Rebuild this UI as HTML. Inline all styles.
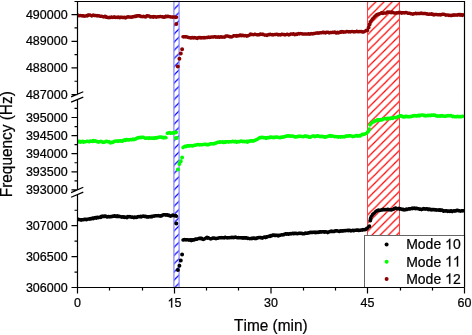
<!DOCTYPE html><html><head><meta charset="utf-8"><style>html,body{margin:0;padding:0;background:#fff;overflow:hidden}svg{display:block;will-change:transform}</style></head><body><svg width="472" height="335" viewBox="0 0 472 335"><defs><pattern id="hr" patternUnits="userSpaceOnUse" width="8.195" height="8.195" patternTransform="translate(0.69 0)"><path d="M-1 1L1 -1M0 8.195L8.195 0M7.195 9.195L9.195 7.195" stroke="#ff0000" stroke-width="1.2"/></pattern><pattern id="hb" patternUnits="userSpaceOnUse" width="8.206" height="8.206" patternTransform="translate(2.868 0)"><path d="M-1 1L1 -1M0 8.206L8.206 0M7.206 9.206L9.206 7.206" stroke="#0000ff" stroke-width="1.15"/></pattern><clipPath id="cp"><rect x="77.3" y="0" width="387.2" height="290"/></clipPath></defs><rect width="472" height="335" fill="#fff"/><rect x="173.9" y="1.5" width="5.2" height="286" fill="url(#hb)" stroke="#8c8cff" stroke-width="1.3"/><rect x="367.5" y="1.5" width="32" height="286" fill="url(#hr)" stroke="#ff4040" stroke-width="1"/><path clip-path="url(#cp)" fill="#8b0000" d="M75.8 15.1a1.75 1.75 0 1 0 3.5 0a1.75 1.75 0 1 0 -3.5 0M76.5 15.7a1.75 1.75 0 1 0 3.5 0a1.75 1.75 0 1 0 -3.5 0M77.2 15.4a1.75 1.75 0 1 0 3.5 0a1.75 1.75 0 1 0 -3.5 0M78.0 15.8a1.75 1.75 0 1 0 3.5 0a1.75 1.75 0 1 0 -3.5 0M78.8 15.4a1.75 1.75 0 1 0 3.5 0a1.75 1.75 0 1 0 -3.5 0M79.5 15.8a1.75 1.75 0 1 0 3.5 0a1.75 1.75 0 1 0 -3.5 0M80.2 15.7a1.75 1.75 0 1 0 3.5 0a1.75 1.75 0 1 0 -3.5 0M81.0 16.0a1.75 1.75 0 1 0 3.5 0a1.75 1.75 0 1 0 -3.5 0M81.8 15.7a1.75 1.75 0 1 0 3.5 0a1.75 1.75 0 1 0 -3.5 0M82.5 16.2a1.75 1.75 0 1 0 3.5 0a1.75 1.75 0 1 0 -3.5 0M83.2 15.9a1.75 1.75 0 1 0 3.5 0a1.75 1.75 0 1 0 -3.5 0M84.0 15.9a1.75 1.75 0 1 0 3.5 0a1.75 1.75 0 1 0 -3.5 0M84.8 15.8a1.75 1.75 0 1 0 3.5 0a1.75 1.75 0 1 0 -3.5 0M85.5 15.9a1.75 1.75 0 1 0 3.5 0a1.75 1.75 0 1 0 -3.5 0M86.2 15.1a1.75 1.75 0 1 0 3.5 0a1.75 1.75 0 1 0 -3.5 0M87.0 15.3a1.75 1.75 0 1 0 3.5 0a1.75 1.75 0 1 0 -3.5 0M87.8 15.1a1.75 1.75 0 1 0 3.5 0a1.75 1.75 0 1 0 -3.5 0M88.5 15.3a1.75 1.75 0 1 0 3.5 0a1.75 1.75 0 1 0 -3.5 0M89.2 15.5a1.75 1.75 0 1 0 3.5 0a1.75 1.75 0 1 0 -3.5 0M90.0 16.1a1.75 1.75 0 1 0 3.5 0a1.75 1.75 0 1 0 -3.5 0M90.8 15.5a1.75 1.75 0 1 0 3.5 0a1.75 1.75 0 1 0 -3.5 0M91.5 15.0a1.75 1.75 0 1 0 3.5 0a1.75 1.75 0 1 0 -3.5 0M92.2 15.4a1.75 1.75 0 1 0 3.5 0a1.75 1.75 0 1 0 -3.5 0M93.0 15.4a1.75 1.75 0 1 0 3.5 0a1.75 1.75 0 1 0 -3.5 0M93.8 15.4a1.75 1.75 0 1 0 3.5 0a1.75 1.75 0 1 0 -3.5 0M94.5 15.8a1.75 1.75 0 1 0 3.5 0a1.75 1.75 0 1 0 -3.5 0M95.2 15.5a1.75 1.75 0 1 0 3.5 0a1.75 1.75 0 1 0 -3.5 0M96.0 16.0a1.75 1.75 0 1 0 3.5 0a1.75 1.75 0 1 0 -3.5 0M96.8 15.8a1.75 1.75 0 1 0 3.5 0a1.75 1.75 0 1 0 -3.5 0M97.5 16.1a1.75 1.75 0 1 0 3.5 0a1.75 1.75 0 1 0 -3.5 0M98.2 16.3a1.75 1.75 0 1 0 3.5 0a1.75 1.75 0 1 0 -3.5 0M99.0 16.3a1.75 1.75 0 1 0 3.5 0a1.75 1.75 0 1 0 -3.5 0M99.8 16.3a1.75 1.75 0 1 0 3.5 0a1.75 1.75 0 1 0 -3.5 0M100.5 16.4a1.75 1.75 0 1 0 3.5 0a1.75 1.75 0 1 0 -3.5 0M101.2 16.8a1.75 1.75 0 1 0 3.5 0a1.75 1.75 0 1 0 -3.5 0M102.0 16.9a1.75 1.75 0 1 0 3.5 0a1.75 1.75 0 1 0 -3.5 0M102.8 16.6a1.75 1.75 0 1 0 3.5 0a1.75 1.75 0 1 0 -3.5 0M103.5 16.3a1.75 1.75 0 1 0 3.5 0a1.75 1.75 0 1 0 -3.5 0M104.2 17.2a1.75 1.75 0 1 0 3.5 0a1.75 1.75 0 1 0 -3.5 0M105.0 17.1a1.75 1.75 0 1 0 3.5 0a1.75 1.75 0 1 0 -3.5 0M105.8 17.4a1.75 1.75 0 1 0 3.5 0a1.75 1.75 0 1 0 -3.5 0M106.5 17.5a1.75 1.75 0 1 0 3.5 0a1.75 1.75 0 1 0 -3.5 0M107.2 17.8a1.75 1.75 0 1 0 3.5 0a1.75 1.75 0 1 0 -3.5 0M108.0 17.2a1.75 1.75 0 1 0 3.5 0a1.75 1.75 0 1 0 -3.5 0M108.8 17.5a1.75 1.75 0 1 0 3.5 0a1.75 1.75 0 1 0 -3.5 0M109.5 17.1a1.75 1.75 0 1 0 3.5 0a1.75 1.75 0 1 0 -3.5 0M110.2 17.2a1.75 1.75 0 1 0 3.5 0a1.75 1.75 0 1 0 -3.5 0M111.0 17.4a1.75 1.75 0 1 0 3.5 0a1.75 1.75 0 1 0 -3.5 0M111.8 17.0a1.75 1.75 0 1 0 3.5 0a1.75 1.75 0 1 0 -3.5 0M112.5 17.2a1.75 1.75 0 1 0 3.5 0a1.75 1.75 0 1 0 -3.5 0M113.2 17.0a1.75 1.75 0 1 0 3.5 0a1.75 1.75 0 1 0 -3.5 0M114.0 17.5a1.75 1.75 0 1 0 3.5 0a1.75 1.75 0 1 0 -3.5 0M114.8 17.3a1.75 1.75 0 1 0 3.5 0a1.75 1.75 0 1 0 -3.5 0M115.5 17.6a1.75 1.75 0 1 0 3.5 0a1.75 1.75 0 1 0 -3.5 0M116.2 17.1a1.75 1.75 0 1 0 3.5 0a1.75 1.75 0 1 0 -3.5 0M117.0 17.3a1.75 1.75 0 1 0 3.5 0a1.75 1.75 0 1 0 -3.5 0M117.8 17.7a1.75 1.75 0 1 0 3.5 0a1.75 1.75 0 1 0 -3.5 0M118.5 17.2a1.75 1.75 0 1 0 3.5 0a1.75 1.75 0 1 0 -3.5 0M119.2 17.4a1.75 1.75 0 1 0 3.5 0a1.75 1.75 0 1 0 -3.5 0M120.0 17.3a1.75 1.75 0 1 0 3.5 0a1.75 1.75 0 1 0 -3.5 0M120.8 17.5a1.75 1.75 0 1 0 3.5 0a1.75 1.75 0 1 0 -3.5 0M121.5 17.4a1.75 1.75 0 1 0 3.5 0a1.75 1.75 0 1 0 -3.5 0M122.2 17.6a1.75 1.75 0 1 0 3.5 0a1.75 1.75 0 1 0 -3.5 0M123.0 17.2a1.75 1.75 0 1 0 3.5 0a1.75 1.75 0 1 0 -3.5 0M123.8 17.9a1.75 1.75 0 1 0 3.5 0a1.75 1.75 0 1 0 -3.5 0M124.5 17.6a1.75 1.75 0 1 0 3.5 0a1.75 1.75 0 1 0 -3.5 0M125.2 17.2a1.75 1.75 0 1 0 3.5 0a1.75 1.75 0 1 0 -3.5 0M126.0 16.7a1.75 1.75 0 1 0 3.5 0a1.75 1.75 0 1 0 -3.5 0M126.8 17.1a1.75 1.75 0 1 0 3.5 0a1.75 1.75 0 1 0 -3.5 0M127.5 17.0a1.75 1.75 0 1 0 3.5 0a1.75 1.75 0 1 0 -3.5 0M128.2 17.0a1.75 1.75 0 1 0 3.5 0a1.75 1.75 0 1 0 -3.5 0M129.0 17.3a1.75 1.75 0 1 0 3.5 0a1.75 1.75 0 1 0 -3.5 0M129.8 17.2a1.75 1.75 0 1 0 3.5 0a1.75 1.75 0 1 0 -3.5 0M130.5 16.8a1.75 1.75 0 1 0 3.5 0a1.75 1.75 0 1 0 -3.5 0M131.2 16.9a1.75 1.75 0 1 0 3.5 0a1.75 1.75 0 1 0 -3.5 0M132.0 16.7a1.75 1.75 0 1 0 3.5 0a1.75 1.75 0 1 0 -3.5 0M132.8 16.3a1.75 1.75 0 1 0 3.5 0a1.75 1.75 0 1 0 -3.5 0M133.5 16.6a1.75 1.75 0 1 0 3.5 0a1.75 1.75 0 1 0 -3.5 0M134.2 16.4a1.75 1.75 0 1 0 3.5 0a1.75 1.75 0 1 0 -3.5 0M135.0 15.7a1.75 1.75 0 1 0 3.5 0a1.75 1.75 0 1 0 -3.5 0M135.8 15.9a1.75 1.75 0 1 0 3.5 0a1.75 1.75 0 1 0 -3.5 0M136.5 15.8a1.75 1.75 0 1 0 3.5 0a1.75 1.75 0 1 0 -3.5 0M137.2 16.0a1.75 1.75 0 1 0 3.5 0a1.75 1.75 0 1 0 -3.5 0M138.0 15.8a1.75 1.75 0 1 0 3.5 0a1.75 1.75 0 1 0 -3.5 0M138.8 16.4a1.75 1.75 0 1 0 3.5 0a1.75 1.75 0 1 0 -3.5 0M139.5 16.5a1.75 1.75 0 1 0 3.5 0a1.75 1.75 0 1 0 -3.5 0M140.2 16.6a1.75 1.75 0 1 0 3.5 0a1.75 1.75 0 1 0 -3.5 0M141.0 16.7a1.75 1.75 0 1 0 3.5 0a1.75 1.75 0 1 0 -3.5 0M141.8 16.3a1.75 1.75 0 1 0 3.5 0a1.75 1.75 0 1 0 -3.5 0M142.5 16.8a1.75 1.75 0 1 0 3.5 0a1.75 1.75 0 1 0 -3.5 0M143.2 16.7a1.75 1.75 0 1 0 3.5 0a1.75 1.75 0 1 0 -3.5 0M144.0 16.9a1.75 1.75 0 1 0 3.5 0a1.75 1.75 0 1 0 -3.5 0M144.8 16.0a1.75 1.75 0 1 0 3.5 0a1.75 1.75 0 1 0 -3.5 0M145.5 15.7a1.75 1.75 0 1 0 3.5 0a1.75 1.75 0 1 0 -3.5 0M146.2 16.1a1.75 1.75 0 1 0 3.5 0a1.75 1.75 0 1 0 -3.5 0M147.0 15.9a1.75 1.75 0 1 0 3.5 0a1.75 1.75 0 1 0 -3.5 0M147.8 16.2a1.75 1.75 0 1 0 3.5 0a1.75 1.75 0 1 0 -3.5 0M148.5 17.1a1.75 1.75 0 1 0 3.5 0a1.75 1.75 0 1 0 -3.5 0M149.2 16.9a1.75 1.75 0 1 0 3.5 0a1.75 1.75 0 1 0 -3.5 0M150.0 16.7a1.75 1.75 0 1 0 3.5 0a1.75 1.75 0 1 0 -3.5 0M150.8 17.0a1.75 1.75 0 1 0 3.5 0a1.75 1.75 0 1 0 -3.5 0M151.5 17.2a1.75 1.75 0 1 0 3.5 0a1.75 1.75 0 1 0 -3.5 0M152.2 16.5a1.75 1.75 0 1 0 3.5 0a1.75 1.75 0 1 0 -3.5 0M153.0 16.8a1.75 1.75 0 1 0 3.5 0a1.75 1.75 0 1 0 -3.5 0M153.8 16.8a1.75 1.75 0 1 0 3.5 0a1.75 1.75 0 1 0 -3.5 0M154.5 17.2a1.75 1.75 0 1 0 3.5 0a1.75 1.75 0 1 0 -3.5 0M155.2 17.1a1.75 1.75 0 1 0 3.5 0a1.75 1.75 0 1 0 -3.5 0M156.0 16.8a1.75 1.75 0 1 0 3.5 0a1.75 1.75 0 1 0 -3.5 0M156.8 16.8a1.75 1.75 0 1 0 3.5 0a1.75 1.75 0 1 0 -3.5 0M157.5 16.7a1.75 1.75 0 1 0 3.5 0a1.75 1.75 0 1 0 -3.5 0M158.2 16.4a1.75 1.75 0 1 0 3.5 0a1.75 1.75 0 1 0 -3.5 0M159.0 16.5a1.75 1.75 0 1 0 3.5 0a1.75 1.75 0 1 0 -3.5 0M159.8 16.7a1.75 1.75 0 1 0 3.5 0a1.75 1.75 0 1 0 -3.5 0M160.5 16.9a1.75 1.75 0 1 0 3.5 0a1.75 1.75 0 1 0 -3.5 0M161.2 16.8a1.75 1.75 0 1 0 3.5 0a1.75 1.75 0 1 0 -3.5 0M162.0 17.2a1.75 1.75 0 1 0 3.5 0a1.75 1.75 0 1 0 -3.5 0M162.8 17.2a1.75 1.75 0 1 0 3.5 0a1.75 1.75 0 1 0 -3.5 0M163.5 16.6a1.75 1.75 0 1 0 3.5 0a1.75 1.75 0 1 0 -3.5 0M164.2 16.3a1.75 1.75 0 1 0 3.5 0a1.75 1.75 0 1 0 -3.5 0M165.0 16.8a1.75 1.75 0 1 0 3.5 0a1.75 1.75 0 1 0 -3.5 0M165.8 16.2a1.75 1.75 0 1 0 3.5 0a1.75 1.75 0 1 0 -3.5 0M166.5 16.4a1.75 1.75 0 1 0 3.5 0a1.75 1.75 0 1 0 -3.5 0M167.2 16.4a1.75 1.75 0 1 0 3.5 0a1.75 1.75 0 1 0 -3.5 0M168.0 16.7a1.75 1.75 0 1 0 3.5 0a1.75 1.75 0 1 0 -3.5 0M168.8 17.1a1.75 1.75 0 1 0 3.5 0a1.75 1.75 0 1 0 -3.5 0M169.5 17.0a1.75 1.75 0 1 0 3.5 0a1.75 1.75 0 1 0 -3.5 0M170.2 16.9a1.75 1.75 0 1 0 3.5 0a1.75 1.75 0 1 0 -3.5 0M171.0 17.2a1.75 1.75 0 1 0 3.5 0a1.75 1.75 0 1 0 -3.5 0M171.8 17.1a1.75 1.75 0 1 0 3.5 0a1.75 1.75 0 1 0 -3.5 0M172.5 17.1a1.75 1.75 0 1 0 3.5 0a1.75 1.75 0 1 0 -3.5 0M173.2 17.1a1.75 1.75 0 1 0 3.5 0a1.75 1.75 0 1 0 -3.5 0M174.0 17.4a1.75 1.75 0 1 0 3.5 0a1.75 1.75 0 1 0 -3.5 0M174.8 17.2a1.75 1.75 0 1 0 3.5 0a1.75 1.75 0 1 0 -3.5 0M181.2 36.7a1.75 1.75 0 1 0 3.5 0a1.75 1.75 0 1 0 -3.5 0M182.0 36.9a1.75 1.75 0 1 0 3.5 0a1.75 1.75 0 1 0 -3.5 0M182.8 36.8a1.75 1.75 0 1 0 3.5 0a1.75 1.75 0 1 0 -3.5 0M183.5 37.0a1.75 1.75 0 1 0 3.5 0a1.75 1.75 0 1 0 -3.5 0M184.2 36.7a1.75 1.75 0 1 0 3.5 0a1.75 1.75 0 1 0 -3.5 0M185.0 37.1a1.75 1.75 0 1 0 3.5 0a1.75 1.75 0 1 0 -3.5 0M185.8 37.3a1.75 1.75 0 1 0 3.5 0a1.75 1.75 0 1 0 -3.5 0M186.5 37.6a1.75 1.75 0 1 0 3.5 0a1.75 1.75 0 1 0 -3.5 0M187.2 37.5a1.75 1.75 0 1 0 3.5 0a1.75 1.75 0 1 0 -3.5 0M188.0 37.7a1.75 1.75 0 1 0 3.5 0a1.75 1.75 0 1 0 -3.5 0M188.8 38.1a1.75 1.75 0 1 0 3.5 0a1.75 1.75 0 1 0 -3.5 0M189.5 38.1a1.75 1.75 0 1 0 3.5 0a1.75 1.75 0 1 0 -3.5 0M190.2 37.6a1.75 1.75 0 1 0 3.5 0a1.75 1.75 0 1 0 -3.5 0M191.0 37.5a1.75 1.75 0 1 0 3.5 0a1.75 1.75 0 1 0 -3.5 0M191.8 37.9a1.75 1.75 0 1 0 3.5 0a1.75 1.75 0 1 0 -3.5 0M192.5 37.4a1.75 1.75 0 1 0 3.5 0a1.75 1.75 0 1 0 -3.5 0M193.2 37.7a1.75 1.75 0 1 0 3.5 0a1.75 1.75 0 1 0 -3.5 0M194.0 37.9a1.75 1.75 0 1 0 3.5 0a1.75 1.75 0 1 0 -3.5 0M194.8 38.2a1.75 1.75 0 1 0 3.5 0a1.75 1.75 0 1 0 -3.5 0M195.5 38.5a1.75 1.75 0 1 0 3.5 0a1.75 1.75 0 1 0 -3.5 0M196.2 37.7a1.75 1.75 0 1 0 3.5 0a1.75 1.75 0 1 0 -3.5 0M197.0 37.6a1.75 1.75 0 1 0 3.5 0a1.75 1.75 0 1 0 -3.5 0M197.8 37.5a1.75 1.75 0 1 0 3.5 0a1.75 1.75 0 1 0 -3.5 0M198.5 37.9a1.75 1.75 0 1 0 3.5 0a1.75 1.75 0 1 0 -3.5 0M199.2 37.6a1.75 1.75 0 1 0 3.5 0a1.75 1.75 0 1 0 -3.5 0M200.0 38.0a1.75 1.75 0 1 0 3.5 0a1.75 1.75 0 1 0 -3.5 0M200.8 37.7a1.75 1.75 0 1 0 3.5 0a1.75 1.75 0 1 0 -3.5 0M201.5 37.6a1.75 1.75 0 1 0 3.5 0a1.75 1.75 0 1 0 -3.5 0M202.2 38.0a1.75 1.75 0 1 0 3.5 0a1.75 1.75 0 1 0 -3.5 0M203.0 37.6a1.75 1.75 0 1 0 3.5 0a1.75 1.75 0 1 0 -3.5 0M203.8 37.8a1.75 1.75 0 1 0 3.5 0a1.75 1.75 0 1 0 -3.5 0M204.5 37.6a1.75 1.75 0 1 0 3.5 0a1.75 1.75 0 1 0 -3.5 0M205.2 37.5a1.75 1.75 0 1 0 3.5 0a1.75 1.75 0 1 0 -3.5 0M206.0 37.4a1.75 1.75 0 1 0 3.5 0a1.75 1.75 0 1 0 -3.5 0M206.8 37.0a1.75 1.75 0 1 0 3.5 0a1.75 1.75 0 1 0 -3.5 0M207.5 37.4a1.75 1.75 0 1 0 3.5 0a1.75 1.75 0 1 0 -3.5 0M208.2 37.3a1.75 1.75 0 1 0 3.5 0a1.75 1.75 0 1 0 -3.5 0M209.0 37.3a1.75 1.75 0 1 0 3.5 0a1.75 1.75 0 1 0 -3.5 0M209.8 36.9a1.75 1.75 0 1 0 3.5 0a1.75 1.75 0 1 0 -3.5 0M210.5 36.9a1.75 1.75 0 1 0 3.5 0a1.75 1.75 0 1 0 -3.5 0M211.2 36.9a1.75 1.75 0 1 0 3.5 0a1.75 1.75 0 1 0 -3.5 0M212.0 36.9a1.75 1.75 0 1 0 3.5 0a1.75 1.75 0 1 0 -3.5 0M212.8 36.7a1.75 1.75 0 1 0 3.5 0a1.75 1.75 0 1 0 -3.5 0M213.5 37.1a1.75 1.75 0 1 0 3.5 0a1.75 1.75 0 1 0 -3.5 0M214.2 37.3a1.75 1.75 0 1 0 3.5 0a1.75 1.75 0 1 0 -3.5 0M215.0 37.0a1.75 1.75 0 1 0 3.5 0a1.75 1.75 0 1 0 -3.5 0M215.8 37.2a1.75 1.75 0 1 0 3.5 0a1.75 1.75 0 1 0 -3.5 0M216.5 36.7a1.75 1.75 0 1 0 3.5 0a1.75 1.75 0 1 0 -3.5 0M217.2 37.3a1.75 1.75 0 1 0 3.5 0a1.75 1.75 0 1 0 -3.5 0M218.0 37.3a1.75 1.75 0 1 0 3.5 0a1.75 1.75 0 1 0 -3.5 0M218.8 36.9a1.75 1.75 0 1 0 3.5 0a1.75 1.75 0 1 0 -3.5 0M219.5 36.7a1.75 1.75 0 1 0 3.5 0a1.75 1.75 0 1 0 -3.5 0M220.2 37.2a1.75 1.75 0 1 0 3.5 0a1.75 1.75 0 1 0 -3.5 0M221.0 37.1a1.75 1.75 0 1 0 3.5 0a1.75 1.75 0 1 0 -3.5 0M221.8 36.9a1.75 1.75 0 1 0 3.5 0a1.75 1.75 0 1 0 -3.5 0M222.5 37.2a1.75 1.75 0 1 0 3.5 0a1.75 1.75 0 1 0 -3.5 0M223.2 36.9a1.75 1.75 0 1 0 3.5 0a1.75 1.75 0 1 0 -3.5 0M224.0 36.1a1.75 1.75 0 1 0 3.5 0a1.75 1.75 0 1 0 -3.5 0M224.8 36.1a1.75 1.75 0 1 0 3.5 0a1.75 1.75 0 1 0 -3.5 0M225.5 35.9a1.75 1.75 0 1 0 3.5 0a1.75 1.75 0 1 0 -3.5 0M226.2 36.3a1.75 1.75 0 1 0 3.5 0a1.75 1.75 0 1 0 -3.5 0M227.0 36.4a1.75 1.75 0 1 0 3.5 0a1.75 1.75 0 1 0 -3.5 0M227.8 36.6a1.75 1.75 0 1 0 3.5 0a1.75 1.75 0 1 0 -3.5 0M228.5 37.0a1.75 1.75 0 1 0 3.5 0a1.75 1.75 0 1 0 -3.5 0M229.2 36.8a1.75 1.75 0 1 0 3.5 0a1.75 1.75 0 1 0 -3.5 0M230.0 36.9a1.75 1.75 0 1 0 3.5 0a1.75 1.75 0 1 0 -3.5 0M230.8 36.5a1.75 1.75 0 1 0 3.5 0a1.75 1.75 0 1 0 -3.5 0M231.5 36.1a1.75 1.75 0 1 0 3.5 0a1.75 1.75 0 1 0 -3.5 0M232.2 35.8a1.75 1.75 0 1 0 3.5 0a1.75 1.75 0 1 0 -3.5 0M233.0 35.8a1.75 1.75 0 1 0 3.5 0a1.75 1.75 0 1 0 -3.5 0M233.8 35.7a1.75 1.75 0 1 0 3.5 0a1.75 1.75 0 1 0 -3.5 0M234.5 36.2a1.75 1.75 0 1 0 3.5 0a1.75 1.75 0 1 0 -3.5 0M235.2 35.6a1.75 1.75 0 1 0 3.5 0a1.75 1.75 0 1 0 -3.5 0M236.0 36.1a1.75 1.75 0 1 0 3.5 0a1.75 1.75 0 1 0 -3.5 0M236.8 35.8a1.75 1.75 0 1 0 3.5 0a1.75 1.75 0 1 0 -3.5 0M237.5 35.7a1.75 1.75 0 1 0 3.5 0a1.75 1.75 0 1 0 -3.5 0M238.2 35.1a1.75 1.75 0 1 0 3.5 0a1.75 1.75 0 1 0 -3.5 0M239.0 35.0a1.75 1.75 0 1 0 3.5 0a1.75 1.75 0 1 0 -3.5 0M239.8 35.8a1.75 1.75 0 1 0 3.5 0a1.75 1.75 0 1 0 -3.5 0M240.5 35.4a1.75 1.75 0 1 0 3.5 0a1.75 1.75 0 1 0 -3.5 0M241.2 35.3a1.75 1.75 0 1 0 3.5 0a1.75 1.75 0 1 0 -3.5 0M242.0 35.8a1.75 1.75 0 1 0 3.5 0a1.75 1.75 0 1 0 -3.5 0M242.8 35.7a1.75 1.75 0 1 0 3.5 0a1.75 1.75 0 1 0 -3.5 0M243.5 35.4a1.75 1.75 0 1 0 3.5 0a1.75 1.75 0 1 0 -3.5 0M244.2 35.7a1.75 1.75 0 1 0 3.5 0a1.75 1.75 0 1 0 -3.5 0M245.0 36.2a1.75 1.75 0 1 0 3.5 0a1.75 1.75 0 1 0 -3.5 0M245.8 35.7a1.75 1.75 0 1 0 3.5 0a1.75 1.75 0 1 0 -3.5 0M246.5 35.7a1.75 1.75 0 1 0 3.5 0a1.75 1.75 0 1 0 -3.5 0M247.2 35.2a1.75 1.75 0 1 0 3.5 0a1.75 1.75 0 1 0 -3.5 0M248.0 35.0a1.75 1.75 0 1 0 3.5 0a1.75 1.75 0 1 0 -3.5 0M248.8 34.1a1.75 1.75 0 1 0 3.5 0a1.75 1.75 0 1 0 -3.5 0M249.5 34.5a1.75 1.75 0 1 0 3.5 0a1.75 1.75 0 1 0 -3.5 0M250.2 34.4a1.75 1.75 0 1 0 3.5 0a1.75 1.75 0 1 0 -3.5 0M251.0 34.6a1.75 1.75 0 1 0 3.5 0a1.75 1.75 0 1 0 -3.5 0M251.8 34.8a1.75 1.75 0 1 0 3.5 0a1.75 1.75 0 1 0 -3.5 0M252.5 34.4a1.75 1.75 0 1 0 3.5 0a1.75 1.75 0 1 0 -3.5 0M253.2 34.2a1.75 1.75 0 1 0 3.5 0a1.75 1.75 0 1 0 -3.5 0M254.0 34.5a1.75 1.75 0 1 0 3.5 0a1.75 1.75 0 1 0 -3.5 0M254.8 34.7a1.75 1.75 0 1 0 3.5 0a1.75 1.75 0 1 0 -3.5 0M255.5 34.8a1.75 1.75 0 1 0 3.5 0a1.75 1.75 0 1 0 -3.5 0M256.2 34.9a1.75 1.75 0 1 0 3.5 0a1.75 1.75 0 1 0 -3.5 0M257.0 34.7a1.75 1.75 0 1 0 3.5 0a1.75 1.75 0 1 0 -3.5 0M257.8 34.8a1.75 1.75 0 1 0 3.5 0a1.75 1.75 0 1 0 -3.5 0M258.5 34.0a1.75 1.75 0 1 0 3.5 0a1.75 1.75 0 1 0 -3.5 0M259.2 34.2a1.75 1.75 0 1 0 3.5 0a1.75 1.75 0 1 0 -3.5 0M260.0 34.3a1.75 1.75 0 1 0 3.5 0a1.75 1.75 0 1 0 -3.5 0M260.8 34.4a1.75 1.75 0 1 0 3.5 0a1.75 1.75 0 1 0 -3.5 0M261.5 34.3a1.75 1.75 0 1 0 3.5 0a1.75 1.75 0 1 0 -3.5 0M262.2 34.8a1.75 1.75 0 1 0 3.5 0a1.75 1.75 0 1 0 -3.5 0M263.0 35.2a1.75 1.75 0 1 0 3.5 0a1.75 1.75 0 1 0 -3.5 0M263.8 34.9a1.75 1.75 0 1 0 3.5 0a1.75 1.75 0 1 0 -3.5 0M264.5 35.0a1.75 1.75 0 1 0 3.5 0a1.75 1.75 0 1 0 -3.5 0M265.2 35.5a1.75 1.75 0 1 0 3.5 0a1.75 1.75 0 1 0 -3.5 0M266.0 35.1a1.75 1.75 0 1 0 3.5 0a1.75 1.75 0 1 0 -3.5 0M266.8 34.6a1.75 1.75 0 1 0 3.5 0a1.75 1.75 0 1 0 -3.5 0M267.5 34.8a1.75 1.75 0 1 0 3.5 0a1.75 1.75 0 1 0 -3.5 0M268.2 34.3a1.75 1.75 0 1 0 3.5 0a1.75 1.75 0 1 0 -3.5 0M269.0 34.5a1.75 1.75 0 1 0 3.5 0a1.75 1.75 0 1 0 -3.5 0M269.8 34.8a1.75 1.75 0 1 0 3.5 0a1.75 1.75 0 1 0 -3.5 0M270.5 34.6a1.75 1.75 0 1 0 3.5 0a1.75 1.75 0 1 0 -3.5 0M271.2 34.9a1.75 1.75 0 1 0 3.5 0a1.75 1.75 0 1 0 -3.5 0M272.0 34.8a1.75 1.75 0 1 0 3.5 0a1.75 1.75 0 1 0 -3.5 0M272.8 34.4a1.75 1.75 0 1 0 3.5 0a1.75 1.75 0 1 0 -3.5 0M273.5 34.6a1.75 1.75 0 1 0 3.5 0a1.75 1.75 0 1 0 -3.5 0M274.2 34.6a1.75 1.75 0 1 0 3.5 0a1.75 1.75 0 1 0 -3.5 0M275.0 34.3a1.75 1.75 0 1 0 3.5 0a1.75 1.75 0 1 0 -3.5 0M275.8 34.6a1.75 1.75 0 1 0 3.5 0a1.75 1.75 0 1 0 -3.5 0M276.5 35.0a1.75 1.75 0 1 0 3.5 0a1.75 1.75 0 1 0 -3.5 0M277.2 34.6a1.75 1.75 0 1 0 3.5 0a1.75 1.75 0 1 0 -3.5 0M278.0 34.7a1.75 1.75 0 1 0 3.5 0a1.75 1.75 0 1 0 -3.5 0M278.8 35.0a1.75 1.75 0 1 0 3.5 0a1.75 1.75 0 1 0 -3.5 0M279.5 34.4a1.75 1.75 0 1 0 3.5 0a1.75 1.75 0 1 0 -3.5 0M280.2 34.2a1.75 1.75 0 1 0 3.5 0a1.75 1.75 0 1 0 -3.5 0M281.0 34.6a1.75 1.75 0 1 0 3.5 0a1.75 1.75 0 1 0 -3.5 0M281.8 34.5a1.75 1.75 0 1 0 3.5 0a1.75 1.75 0 1 0 -3.5 0M282.5 34.6a1.75 1.75 0 1 0 3.5 0a1.75 1.75 0 1 0 -3.5 0M283.2 34.9a1.75 1.75 0 1 0 3.5 0a1.75 1.75 0 1 0 -3.5 0M284.0 34.8a1.75 1.75 0 1 0 3.5 0a1.75 1.75 0 1 0 -3.5 0M284.8 34.6a1.75 1.75 0 1 0 3.5 0a1.75 1.75 0 1 0 -3.5 0M285.5 34.3a1.75 1.75 0 1 0 3.5 0a1.75 1.75 0 1 0 -3.5 0M286.2 34.4a1.75 1.75 0 1 0 3.5 0a1.75 1.75 0 1 0 -3.5 0M287.0 34.9a1.75 1.75 0 1 0 3.5 0a1.75 1.75 0 1 0 -3.5 0M287.8 34.7a1.75 1.75 0 1 0 3.5 0a1.75 1.75 0 1 0 -3.5 0M288.5 34.3a1.75 1.75 0 1 0 3.5 0a1.75 1.75 0 1 0 -3.5 0M289.2 34.1a1.75 1.75 0 1 0 3.5 0a1.75 1.75 0 1 0 -3.5 0M290.0 34.0a1.75 1.75 0 1 0 3.5 0a1.75 1.75 0 1 0 -3.5 0M290.8 34.2a1.75 1.75 0 1 0 3.5 0a1.75 1.75 0 1 0 -3.5 0M291.5 33.7a1.75 1.75 0 1 0 3.5 0a1.75 1.75 0 1 0 -3.5 0M292.2 34.0a1.75 1.75 0 1 0 3.5 0a1.75 1.75 0 1 0 -3.5 0M293.0 34.7a1.75 1.75 0 1 0 3.5 0a1.75 1.75 0 1 0 -3.5 0M293.8 34.4a1.75 1.75 0 1 0 3.5 0a1.75 1.75 0 1 0 -3.5 0M294.5 34.1a1.75 1.75 0 1 0 3.5 0a1.75 1.75 0 1 0 -3.5 0M295.2 34.6a1.75 1.75 0 1 0 3.5 0a1.75 1.75 0 1 0 -3.5 0M296.0 33.9a1.75 1.75 0 1 0 3.5 0a1.75 1.75 0 1 0 -3.5 0M296.8 33.6a1.75 1.75 0 1 0 3.5 0a1.75 1.75 0 1 0 -3.5 0M297.5 33.9a1.75 1.75 0 1 0 3.5 0a1.75 1.75 0 1 0 -3.5 0M298.2 33.7a1.75 1.75 0 1 0 3.5 0a1.75 1.75 0 1 0 -3.5 0M299.0 33.6a1.75 1.75 0 1 0 3.5 0a1.75 1.75 0 1 0 -3.5 0M299.8 33.7a1.75 1.75 0 1 0 3.5 0a1.75 1.75 0 1 0 -3.5 0M300.5 34.1a1.75 1.75 0 1 0 3.5 0a1.75 1.75 0 1 0 -3.5 0M301.2 34.1a1.75 1.75 0 1 0 3.5 0a1.75 1.75 0 1 0 -3.5 0M302.0 33.9a1.75 1.75 0 1 0 3.5 0a1.75 1.75 0 1 0 -3.5 0M302.8 33.9a1.75 1.75 0 1 0 3.5 0a1.75 1.75 0 1 0 -3.5 0M303.5 34.1a1.75 1.75 0 1 0 3.5 0a1.75 1.75 0 1 0 -3.5 0M304.2 34.0a1.75 1.75 0 1 0 3.5 0a1.75 1.75 0 1 0 -3.5 0M305.0 33.9a1.75 1.75 0 1 0 3.5 0a1.75 1.75 0 1 0 -3.5 0M305.8 34.1a1.75 1.75 0 1 0 3.5 0a1.75 1.75 0 1 0 -3.5 0M306.5 34.1a1.75 1.75 0 1 0 3.5 0a1.75 1.75 0 1 0 -3.5 0M307.2 33.8a1.75 1.75 0 1 0 3.5 0a1.75 1.75 0 1 0 -3.5 0M308.0 34.2a1.75 1.75 0 1 0 3.5 0a1.75 1.75 0 1 0 -3.5 0M308.8 33.9a1.75 1.75 0 1 0 3.5 0a1.75 1.75 0 1 0 -3.5 0M309.5 33.6a1.75 1.75 0 1 0 3.5 0a1.75 1.75 0 1 0 -3.5 0M310.2 33.7a1.75 1.75 0 1 0 3.5 0a1.75 1.75 0 1 0 -3.5 0M311.0 33.9a1.75 1.75 0 1 0 3.5 0a1.75 1.75 0 1 0 -3.5 0M311.8 33.4a1.75 1.75 0 1 0 3.5 0a1.75 1.75 0 1 0 -3.5 0M312.5 33.6a1.75 1.75 0 1 0 3.5 0a1.75 1.75 0 1 0 -3.5 0M313.2 33.6a1.75 1.75 0 1 0 3.5 0a1.75 1.75 0 1 0 -3.5 0M314.0 33.2a1.75 1.75 0 1 0 3.5 0a1.75 1.75 0 1 0 -3.5 0M314.8 33.1a1.75 1.75 0 1 0 3.5 0a1.75 1.75 0 1 0 -3.5 0M315.5 33.2a1.75 1.75 0 1 0 3.5 0a1.75 1.75 0 1 0 -3.5 0M316.2 33.1a1.75 1.75 0 1 0 3.5 0a1.75 1.75 0 1 0 -3.5 0M317.0 33.3a1.75 1.75 0 1 0 3.5 0a1.75 1.75 0 1 0 -3.5 0M317.8 32.9a1.75 1.75 0 1 0 3.5 0a1.75 1.75 0 1 0 -3.5 0M318.5 32.7a1.75 1.75 0 1 0 3.5 0a1.75 1.75 0 1 0 -3.5 0M319.2 32.8a1.75 1.75 0 1 0 3.5 0a1.75 1.75 0 1 0 -3.5 0M320.0 32.8a1.75 1.75 0 1 0 3.5 0a1.75 1.75 0 1 0 -3.5 0M320.8 32.2a1.75 1.75 0 1 0 3.5 0a1.75 1.75 0 1 0 -3.5 0M321.5 32.7a1.75 1.75 0 1 0 3.5 0a1.75 1.75 0 1 0 -3.5 0M322.2 32.3a1.75 1.75 0 1 0 3.5 0a1.75 1.75 0 1 0 -3.5 0M323.0 32.8a1.75 1.75 0 1 0 3.5 0a1.75 1.75 0 1 0 -3.5 0M323.8 33.0a1.75 1.75 0 1 0 3.5 0a1.75 1.75 0 1 0 -3.5 0M324.5 32.2a1.75 1.75 0 1 0 3.5 0a1.75 1.75 0 1 0 -3.5 0M325.2 32.3a1.75 1.75 0 1 0 3.5 0a1.75 1.75 0 1 0 -3.5 0M326.0 32.2a1.75 1.75 0 1 0 3.5 0a1.75 1.75 0 1 0 -3.5 0M326.8 32.5a1.75 1.75 0 1 0 3.5 0a1.75 1.75 0 1 0 -3.5 0M327.5 33.0a1.75 1.75 0 1 0 3.5 0a1.75 1.75 0 1 0 -3.5 0M328.2 32.4a1.75 1.75 0 1 0 3.5 0a1.75 1.75 0 1 0 -3.5 0M329.0 32.4a1.75 1.75 0 1 0 3.5 0a1.75 1.75 0 1 0 -3.5 0M329.8 32.6a1.75 1.75 0 1 0 3.5 0a1.75 1.75 0 1 0 -3.5 0M330.5 32.5a1.75 1.75 0 1 0 3.5 0a1.75 1.75 0 1 0 -3.5 0M331.2 32.2a1.75 1.75 0 1 0 3.5 0a1.75 1.75 0 1 0 -3.5 0M332.0 32.4a1.75 1.75 0 1 0 3.5 0a1.75 1.75 0 1 0 -3.5 0M332.8 32.0a1.75 1.75 0 1 0 3.5 0a1.75 1.75 0 1 0 -3.5 0M333.5 32.3a1.75 1.75 0 1 0 3.5 0a1.75 1.75 0 1 0 -3.5 0M334.2 32.9a1.75 1.75 0 1 0 3.5 0a1.75 1.75 0 1 0 -3.5 0M335.0 33.0a1.75 1.75 0 1 0 3.5 0a1.75 1.75 0 1 0 -3.5 0M335.8 32.3a1.75 1.75 0 1 0 3.5 0a1.75 1.75 0 1 0 -3.5 0M336.5 33.1a1.75 1.75 0 1 0 3.5 0a1.75 1.75 0 1 0 -3.5 0M337.2 32.5a1.75 1.75 0 1 0 3.5 0a1.75 1.75 0 1 0 -3.5 0M338.0 32.5a1.75 1.75 0 1 0 3.5 0a1.75 1.75 0 1 0 -3.5 0M338.8 31.8a1.75 1.75 0 1 0 3.5 0a1.75 1.75 0 1 0 -3.5 0M339.5 32.2a1.75 1.75 0 1 0 3.5 0a1.75 1.75 0 1 0 -3.5 0M340.2 31.5a1.75 1.75 0 1 0 3.5 0a1.75 1.75 0 1 0 -3.5 0M341.0 32.0a1.75 1.75 0 1 0 3.5 0a1.75 1.75 0 1 0 -3.5 0M341.8 32.2a1.75 1.75 0 1 0 3.5 0a1.75 1.75 0 1 0 -3.5 0M342.5 32.1a1.75 1.75 0 1 0 3.5 0a1.75 1.75 0 1 0 -3.5 0M343.2 32.0a1.75 1.75 0 1 0 3.5 0a1.75 1.75 0 1 0 -3.5 0M344.0 32.1a1.75 1.75 0 1 0 3.5 0a1.75 1.75 0 1 0 -3.5 0M344.8 31.6a1.75 1.75 0 1 0 3.5 0a1.75 1.75 0 1 0 -3.5 0M345.5 31.6a1.75 1.75 0 1 0 3.5 0a1.75 1.75 0 1 0 -3.5 0M346.2 31.8a1.75 1.75 0 1 0 3.5 0a1.75 1.75 0 1 0 -3.5 0M347.0 31.9a1.75 1.75 0 1 0 3.5 0a1.75 1.75 0 1 0 -3.5 0M347.8 31.7a1.75 1.75 0 1 0 3.5 0a1.75 1.75 0 1 0 -3.5 0M348.5 32.0a1.75 1.75 0 1 0 3.5 0a1.75 1.75 0 1 0 -3.5 0M349.2 31.8a1.75 1.75 0 1 0 3.5 0a1.75 1.75 0 1 0 -3.5 0M350.0 31.6a1.75 1.75 0 1 0 3.5 0a1.75 1.75 0 1 0 -3.5 0M350.8 31.4a1.75 1.75 0 1 0 3.5 0a1.75 1.75 0 1 0 -3.5 0M351.5 31.8a1.75 1.75 0 1 0 3.5 0a1.75 1.75 0 1 0 -3.5 0M352.2 32.1a1.75 1.75 0 1 0 3.5 0a1.75 1.75 0 1 0 -3.5 0M353.0 31.7a1.75 1.75 0 1 0 3.5 0a1.75 1.75 0 1 0 -3.5 0M353.8 31.7a1.75 1.75 0 1 0 3.5 0a1.75 1.75 0 1 0 -3.5 0M354.5 31.6a1.75 1.75 0 1 0 3.5 0a1.75 1.75 0 1 0 -3.5 0M355.2 31.3a1.75 1.75 0 1 0 3.5 0a1.75 1.75 0 1 0 -3.5 0M356.0 31.7a1.75 1.75 0 1 0 3.5 0a1.75 1.75 0 1 0 -3.5 0M356.8 31.8a1.75 1.75 0 1 0 3.5 0a1.75 1.75 0 1 0 -3.5 0M357.5 31.5a1.75 1.75 0 1 0 3.5 0a1.75 1.75 0 1 0 -3.5 0M358.2 31.8a1.75 1.75 0 1 0 3.5 0a1.75 1.75 0 1 0 -3.5 0M359.0 31.4a1.75 1.75 0 1 0 3.5 0a1.75 1.75 0 1 0 -3.5 0M359.8 31.5a1.75 1.75 0 1 0 3.5 0a1.75 1.75 0 1 0 -3.5 0M360.5 31.9a1.75 1.75 0 1 0 3.5 0a1.75 1.75 0 1 0 -3.5 0M361.2 32.1a1.75 1.75 0 1 0 3.5 0a1.75 1.75 0 1 0 -3.5 0M362.0 32.1a1.75 1.75 0 1 0 3.5 0a1.75 1.75 0 1 0 -3.5 0M362.8 31.4a1.75 1.75 0 1 0 3.5 0a1.75 1.75 0 1 0 -3.5 0M363.5 31.3a1.75 1.75 0 1 0 3.5 0a1.75 1.75 0 1 0 -3.5 0M364.2 30.6a1.75 1.75 0 1 0 3.5 0a1.75 1.75 0 1 0 -3.5 0M365.0 30.2a1.75 1.75 0 1 0 3.5 0a1.75 1.75 0 1 0 -3.5 0M365.8 30.6a1.75 1.75 0 1 0 3.5 0a1.75 1.75 0 1 0 -3.5 0M369.9 20.2a1.75 1.75 0 1 0 3.5 0a1.75 1.75 0 1 0 -3.5 0M370.6 18.9a1.75 1.75 0 1 0 3.5 0a1.75 1.75 0 1 0 -3.5 0M371.4 18.2a1.75 1.75 0 1 0 3.5 0a1.75 1.75 0 1 0 -3.5 0M372.1 17.4a1.75 1.75 0 1 0 3.5 0a1.75 1.75 0 1 0 -3.5 0M372.9 16.4a1.75 1.75 0 1 0 3.5 0a1.75 1.75 0 1 0 -3.5 0M373.6 16.1a1.75 1.75 0 1 0 3.5 0a1.75 1.75 0 1 0 -3.5 0M374.4 15.1a1.75 1.75 0 1 0 3.5 0a1.75 1.75 0 1 0 -3.5 0M375.1 14.9a1.75 1.75 0 1 0 3.5 0a1.75 1.75 0 1 0 -3.5 0M375.9 14.2a1.75 1.75 0 1 0 3.5 0a1.75 1.75 0 1 0 -3.5 0M376.6 14.5a1.75 1.75 0 1 0 3.5 0a1.75 1.75 0 1 0 -3.5 0M377.4 13.7a1.75 1.75 0 1 0 3.5 0a1.75 1.75 0 1 0 -3.5 0M378.1 13.7a1.75 1.75 0 1 0 3.5 0a1.75 1.75 0 1 0 -3.5 0M378.9 13.5a1.75 1.75 0 1 0 3.5 0a1.75 1.75 0 1 0 -3.5 0M379.6 12.8a1.75 1.75 0 1 0 3.5 0a1.75 1.75 0 1 0 -3.5 0M380.4 12.8a1.75 1.75 0 1 0 3.5 0a1.75 1.75 0 1 0 -3.5 0M381.1 13.4a1.75 1.75 0 1 0 3.5 0a1.75 1.75 0 1 0 -3.5 0M381.9 13.3a1.75 1.75 0 1 0 3.5 0a1.75 1.75 0 1 0 -3.5 0M382.6 13.1a1.75 1.75 0 1 0 3.5 0a1.75 1.75 0 1 0 -3.5 0M383.4 12.9a1.75 1.75 0 1 0 3.5 0a1.75 1.75 0 1 0 -3.5 0M384.1 13.3a1.75 1.75 0 1 0 3.5 0a1.75 1.75 0 1 0 -3.5 0M384.9 12.8a1.75 1.75 0 1 0 3.5 0a1.75 1.75 0 1 0 -3.5 0M385.6 12.0a1.75 1.75 0 1 0 3.5 0a1.75 1.75 0 1 0 -3.5 0M386.4 12.3a1.75 1.75 0 1 0 3.5 0a1.75 1.75 0 1 0 -3.5 0M387.1 12.3a1.75 1.75 0 1 0 3.5 0a1.75 1.75 0 1 0 -3.5 0M387.9 12.1a1.75 1.75 0 1 0 3.5 0a1.75 1.75 0 1 0 -3.5 0M388.6 12.6a1.75 1.75 0 1 0 3.5 0a1.75 1.75 0 1 0 -3.5 0M389.4 12.8a1.75 1.75 0 1 0 3.5 0a1.75 1.75 0 1 0 -3.5 0M390.1 12.1a1.75 1.75 0 1 0 3.5 0a1.75 1.75 0 1 0 -3.5 0M390.9 12.2a1.75 1.75 0 1 0 3.5 0a1.75 1.75 0 1 0 -3.5 0M391.6 12.7a1.75 1.75 0 1 0 3.5 0a1.75 1.75 0 1 0 -3.5 0M392.4 12.9a1.75 1.75 0 1 0 3.5 0a1.75 1.75 0 1 0 -3.5 0M393.1 12.9a1.75 1.75 0 1 0 3.5 0a1.75 1.75 0 1 0 -3.5 0M393.9 13.0a1.75 1.75 0 1 0 3.5 0a1.75 1.75 0 1 0 -3.5 0M394.6 12.9a1.75 1.75 0 1 0 3.5 0a1.75 1.75 0 1 0 -3.5 0M395.4 12.7a1.75 1.75 0 1 0 3.5 0a1.75 1.75 0 1 0 -3.5 0M396.1 13.0a1.75 1.75 0 1 0 3.5 0a1.75 1.75 0 1 0 -3.5 0M396.9 12.4a1.75 1.75 0 1 0 3.5 0a1.75 1.75 0 1 0 -3.5 0M397.6 12.8a1.75 1.75 0 1 0 3.5 0a1.75 1.75 0 1 0 -3.5 0M398.4 12.5a1.75 1.75 0 1 0 3.5 0a1.75 1.75 0 1 0 -3.5 0M399.1 12.5a1.75 1.75 0 1 0 3.5 0a1.75 1.75 0 1 0 -3.5 0M399.9 13.3a1.75 1.75 0 1 0 3.5 0a1.75 1.75 0 1 0 -3.5 0M400.6 13.1a1.75 1.75 0 1 0 3.5 0a1.75 1.75 0 1 0 -3.5 0M401.4 12.7a1.75 1.75 0 1 0 3.5 0a1.75 1.75 0 1 0 -3.5 0M402.1 12.8a1.75 1.75 0 1 0 3.5 0a1.75 1.75 0 1 0 -3.5 0M402.9 13.1a1.75 1.75 0 1 0 3.5 0a1.75 1.75 0 1 0 -3.5 0M403.6 12.5a1.75 1.75 0 1 0 3.5 0a1.75 1.75 0 1 0 -3.5 0M404.4 12.6a1.75 1.75 0 1 0 3.5 0a1.75 1.75 0 1 0 -3.5 0M405.1 12.7a1.75 1.75 0 1 0 3.5 0a1.75 1.75 0 1 0 -3.5 0M405.9 13.2a1.75 1.75 0 1 0 3.5 0a1.75 1.75 0 1 0 -3.5 0M406.6 13.3a1.75 1.75 0 1 0 3.5 0a1.75 1.75 0 1 0 -3.5 0M407.4 13.3a1.75 1.75 0 1 0 3.5 0a1.75 1.75 0 1 0 -3.5 0M408.1 13.3a1.75 1.75 0 1 0 3.5 0a1.75 1.75 0 1 0 -3.5 0M408.9 13.7a1.75 1.75 0 1 0 3.5 0a1.75 1.75 0 1 0 -3.5 0M409.6 13.8a1.75 1.75 0 1 0 3.5 0a1.75 1.75 0 1 0 -3.5 0M410.4 14.1a1.75 1.75 0 1 0 3.5 0a1.75 1.75 0 1 0 -3.5 0M411.1 14.2a1.75 1.75 0 1 0 3.5 0a1.75 1.75 0 1 0 -3.5 0M411.9 13.8a1.75 1.75 0 1 0 3.5 0a1.75 1.75 0 1 0 -3.5 0M412.6 13.7a1.75 1.75 0 1 0 3.5 0a1.75 1.75 0 1 0 -3.5 0M413.4 13.5a1.75 1.75 0 1 0 3.5 0a1.75 1.75 0 1 0 -3.5 0M414.1 13.2a1.75 1.75 0 1 0 3.5 0a1.75 1.75 0 1 0 -3.5 0M414.9 13.7a1.75 1.75 0 1 0 3.5 0a1.75 1.75 0 1 0 -3.5 0M415.6 13.4a1.75 1.75 0 1 0 3.5 0a1.75 1.75 0 1 0 -3.5 0M416.4 13.5a1.75 1.75 0 1 0 3.5 0a1.75 1.75 0 1 0 -3.5 0M417.1 13.4a1.75 1.75 0 1 0 3.5 0a1.75 1.75 0 1 0 -3.5 0M417.9 13.4a1.75 1.75 0 1 0 3.5 0a1.75 1.75 0 1 0 -3.5 0M418.6 13.5a1.75 1.75 0 1 0 3.5 0a1.75 1.75 0 1 0 -3.5 0M419.4 13.0a1.75 1.75 0 1 0 3.5 0a1.75 1.75 0 1 0 -3.5 0M420.1 13.6a1.75 1.75 0 1 0 3.5 0a1.75 1.75 0 1 0 -3.5 0M420.9 13.4a1.75 1.75 0 1 0 3.5 0a1.75 1.75 0 1 0 -3.5 0M421.6 13.4a1.75 1.75 0 1 0 3.5 0a1.75 1.75 0 1 0 -3.5 0M422.4 13.4a1.75 1.75 0 1 0 3.5 0a1.75 1.75 0 1 0 -3.5 0M423.1 13.4a1.75 1.75 0 1 0 3.5 0a1.75 1.75 0 1 0 -3.5 0M423.9 13.6a1.75 1.75 0 1 0 3.5 0a1.75 1.75 0 1 0 -3.5 0M424.6 13.9a1.75 1.75 0 1 0 3.5 0a1.75 1.75 0 1 0 -3.5 0M425.4 13.7a1.75 1.75 0 1 0 3.5 0a1.75 1.75 0 1 0 -3.5 0M426.1 14.3a1.75 1.75 0 1 0 3.5 0a1.75 1.75 0 1 0 -3.5 0M426.9 14.3a1.75 1.75 0 1 0 3.5 0a1.75 1.75 0 1 0 -3.5 0M427.6 14.2a1.75 1.75 0 1 0 3.5 0a1.75 1.75 0 1 0 -3.5 0M428.4 14.1a1.75 1.75 0 1 0 3.5 0a1.75 1.75 0 1 0 -3.5 0M429.1 14.3a1.75 1.75 0 1 0 3.5 0a1.75 1.75 0 1 0 -3.5 0M429.9 13.8a1.75 1.75 0 1 0 3.5 0a1.75 1.75 0 1 0 -3.5 0M430.6 14.6a1.75 1.75 0 1 0 3.5 0a1.75 1.75 0 1 0 -3.5 0M431.4 14.2a1.75 1.75 0 1 0 3.5 0a1.75 1.75 0 1 0 -3.5 0M432.1 14.9a1.75 1.75 0 1 0 3.5 0a1.75 1.75 0 1 0 -3.5 0M432.9 14.6a1.75 1.75 0 1 0 3.5 0a1.75 1.75 0 1 0 -3.5 0M433.6 14.4a1.75 1.75 0 1 0 3.5 0a1.75 1.75 0 1 0 -3.5 0M434.4 14.6a1.75 1.75 0 1 0 3.5 0a1.75 1.75 0 1 0 -3.5 0M435.1 14.6a1.75 1.75 0 1 0 3.5 0a1.75 1.75 0 1 0 -3.5 0M435.9 14.7a1.75 1.75 0 1 0 3.5 0a1.75 1.75 0 1 0 -3.5 0M436.6 14.7a1.75 1.75 0 1 0 3.5 0a1.75 1.75 0 1 0 -3.5 0M437.4 14.7a1.75 1.75 0 1 0 3.5 0a1.75 1.75 0 1 0 -3.5 0M438.1 14.6a1.75 1.75 0 1 0 3.5 0a1.75 1.75 0 1 0 -3.5 0M438.9 14.9a1.75 1.75 0 1 0 3.5 0a1.75 1.75 0 1 0 -3.5 0M439.6 14.8a1.75 1.75 0 1 0 3.5 0a1.75 1.75 0 1 0 -3.5 0M440.4 14.3a1.75 1.75 0 1 0 3.5 0a1.75 1.75 0 1 0 -3.5 0M441.1 14.2a1.75 1.75 0 1 0 3.5 0a1.75 1.75 0 1 0 -3.5 0M441.9 14.3a1.75 1.75 0 1 0 3.5 0a1.75 1.75 0 1 0 -3.5 0M442.6 14.4a1.75 1.75 0 1 0 3.5 0a1.75 1.75 0 1 0 -3.5 0M443.4 14.8a1.75 1.75 0 1 0 3.5 0a1.75 1.75 0 1 0 -3.5 0M444.1 15.2a1.75 1.75 0 1 0 3.5 0a1.75 1.75 0 1 0 -3.5 0M444.9 15.0a1.75 1.75 0 1 0 3.5 0a1.75 1.75 0 1 0 -3.5 0M445.6 15.1a1.75 1.75 0 1 0 3.5 0a1.75 1.75 0 1 0 -3.5 0M446.4 15.1a1.75 1.75 0 1 0 3.5 0a1.75 1.75 0 1 0 -3.5 0M447.1 15.5a1.75 1.75 0 1 0 3.5 0a1.75 1.75 0 1 0 -3.5 0M447.9 15.2a1.75 1.75 0 1 0 3.5 0a1.75 1.75 0 1 0 -3.5 0M448.6 15.5a1.75 1.75 0 1 0 3.5 0a1.75 1.75 0 1 0 -3.5 0M449.4 15.6a1.75 1.75 0 1 0 3.5 0a1.75 1.75 0 1 0 -3.5 0M450.1 15.5a1.75 1.75 0 1 0 3.5 0a1.75 1.75 0 1 0 -3.5 0M450.9 15.0a1.75 1.75 0 1 0 3.5 0a1.75 1.75 0 1 0 -3.5 0M451.6 15.3a1.75 1.75 0 1 0 3.5 0a1.75 1.75 0 1 0 -3.5 0M452.4 15.1a1.75 1.75 0 1 0 3.5 0a1.75 1.75 0 1 0 -3.5 0M453.1 15.2a1.75 1.75 0 1 0 3.5 0a1.75 1.75 0 1 0 -3.5 0M453.9 15.1a1.75 1.75 0 1 0 3.5 0a1.75 1.75 0 1 0 -3.5 0M454.6 15.1a1.75 1.75 0 1 0 3.5 0a1.75 1.75 0 1 0 -3.5 0M455.4 15.3a1.75 1.75 0 1 0 3.5 0a1.75 1.75 0 1 0 -3.5 0M456.1 15.1a1.75 1.75 0 1 0 3.5 0a1.75 1.75 0 1 0 -3.5 0M456.9 14.6a1.75 1.75 0 1 0 3.5 0a1.75 1.75 0 1 0 -3.5 0M457.6 14.6a1.75 1.75 0 1 0 3.5 0a1.75 1.75 0 1 0 -3.5 0M458.4 15.3a1.75 1.75 0 1 0 3.5 0a1.75 1.75 0 1 0 -3.5 0M459.1 14.5a1.75 1.75 0 1 0 3.5 0a1.75 1.75 0 1 0 -3.5 0M459.9 14.8a1.75 1.75 0 1 0 3.5 0a1.75 1.75 0 1 0 -3.5 0M460.6 15.5a1.75 1.75 0 1 0 3.5 0a1.75 1.75 0 1 0 -3.5 0M461.4 14.7a1.75 1.75 0 1 0 3.5 0a1.75 1.75 0 1 0 -3.5 0M174.3 23.9a2.0 2.0 0 1 0 4.0 0a2.0 2.0 0 1 0 -4.0 0M180.1 49.2a2.0 2.0 0 1 0 4.0 0a2.0 2.0 0 1 0 -4.0 0M178.8 53.4a2.0 2.0 0 1 0 4.0 0a2.0 2.0 0 1 0 -4.0 0M177.4 58.8a2.0 2.0 0 1 0 4.0 0a2.0 2.0 0 1 0 -4.0 0M175.8 66.4a2.0 2.0 0 1 0 4.0 0a2.0 2.0 0 1 0 -4.0 0M366.6 27.6a2.0 2.0 0 1 0 4.0 0a2.0 2.0 0 1 0 -4.0 0M367.6 24.4a2.0 2.0 0 1 0 4.0 0a2.0 2.0 0 1 0 -4.0 0M368.4 22.0a2.0 2.0 0 1 0 4.0 0a2.0 2.0 0 1 0 -4.0 0"/><path clip-path="url(#cp)" fill="#00ff00" d="M75.7 141.4a1.8 1.8 0 1 0 3.6 0a1.8 1.8 0 1 0 -3.6 0M76.5 141.2a1.8 1.8 0 1 0 3.6 0a1.8 1.8 0 1 0 -3.6 0M77.2 141.9a1.8 1.8 0 1 0 3.6 0a1.8 1.8 0 1 0 -3.6 0M78.0 141.4a1.8 1.8 0 1 0 3.6 0a1.8 1.8 0 1 0 -3.6 0M78.7 142.2a1.8 1.8 0 1 0 3.6 0a1.8 1.8 0 1 0 -3.6 0M79.5 141.8a1.8 1.8 0 1 0 3.6 0a1.8 1.8 0 1 0 -3.6 0M80.2 141.5a1.8 1.8 0 1 0 3.6 0a1.8 1.8 0 1 0 -3.6 0M81.0 141.3a1.8 1.8 0 1 0 3.6 0a1.8 1.8 0 1 0 -3.6 0M81.7 142.3a1.8 1.8 0 1 0 3.6 0a1.8 1.8 0 1 0 -3.6 0M82.5 141.9a1.8 1.8 0 1 0 3.6 0a1.8 1.8 0 1 0 -3.6 0M83.2 141.7a1.8 1.8 0 1 0 3.6 0a1.8 1.8 0 1 0 -3.6 0M84.0 141.8a1.8 1.8 0 1 0 3.6 0a1.8 1.8 0 1 0 -3.6 0M84.7 141.5a1.8 1.8 0 1 0 3.6 0a1.8 1.8 0 1 0 -3.6 0M85.5 141.3a1.8 1.8 0 1 0 3.6 0a1.8 1.8 0 1 0 -3.6 0M86.2 141.5a1.8 1.8 0 1 0 3.6 0a1.8 1.8 0 1 0 -3.6 0M87.0 141.6a1.8 1.8 0 1 0 3.6 0a1.8 1.8 0 1 0 -3.6 0M87.7 141.8a1.8 1.8 0 1 0 3.6 0a1.8 1.8 0 1 0 -3.6 0M88.5 141.0a1.8 1.8 0 1 0 3.6 0a1.8 1.8 0 1 0 -3.6 0M89.2 141.2a1.8 1.8 0 1 0 3.6 0a1.8 1.8 0 1 0 -3.6 0M90.0 141.2a1.8 1.8 0 1 0 3.6 0a1.8 1.8 0 1 0 -3.6 0M90.7 141.5a1.8 1.8 0 1 0 3.6 0a1.8 1.8 0 1 0 -3.6 0M91.5 140.6a1.8 1.8 0 1 0 3.6 0a1.8 1.8 0 1 0 -3.6 0M92.2 141.1a1.8 1.8 0 1 0 3.6 0a1.8 1.8 0 1 0 -3.6 0M93.0 141.2a1.8 1.8 0 1 0 3.6 0a1.8 1.8 0 1 0 -3.6 0M93.7 140.8a1.8 1.8 0 1 0 3.6 0a1.8 1.8 0 1 0 -3.6 0M94.5 141.2a1.8 1.8 0 1 0 3.6 0a1.8 1.8 0 1 0 -3.6 0M95.2 141.8a1.8 1.8 0 1 0 3.6 0a1.8 1.8 0 1 0 -3.6 0M96.0 141.6a1.8 1.8 0 1 0 3.6 0a1.8 1.8 0 1 0 -3.6 0M96.7 142.2a1.8 1.8 0 1 0 3.6 0a1.8 1.8 0 1 0 -3.6 0M97.5 141.7a1.8 1.8 0 1 0 3.6 0a1.8 1.8 0 1 0 -3.6 0M98.2 141.7a1.8 1.8 0 1 0 3.6 0a1.8 1.8 0 1 0 -3.6 0M99.0 141.3a1.8 1.8 0 1 0 3.6 0a1.8 1.8 0 1 0 -3.6 0M99.7 141.8a1.8 1.8 0 1 0 3.6 0a1.8 1.8 0 1 0 -3.6 0M100.5 141.8a1.8 1.8 0 1 0 3.6 0a1.8 1.8 0 1 0 -3.6 0M101.2 142.4a1.8 1.8 0 1 0 3.6 0a1.8 1.8 0 1 0 -3.6 0M102.0 142.2a1.8 1.8 0 1 0 3.6 0a1.8 1.8 0 1 0 -3.6 0M102.7 142.2a1.8 1.8 0 1 0 3.6 0a1.8 1.8 0 1 0 -3.6 0M103.5 141.7a1.8 1.8 0 1 0 3.6 0a1.8 1.8 0 1 0 -3.6 0M104.2 141.3a1.8 1.8 0 1 0 3.6 0a1.8 1.8 0 1 0 -3.6 0M105.0 141.2a1.8 1.8 0 1 0 3.6 0a1.8 1.8 0 1 0 -3.6 0M105.7 141.8a1.8 1.8 0 1 0 3.6 0a1.8 1.8 0 1 0 -3.6 0M106.5 141.7a1.8 1.8 0 1 0 3.6 0a1.8 1.8 0 1 0 -3.6 0M107.2 141.5a1.8 1.8 0 1 0 3.6 0a1.8 1.8 0 1 0 -3.6 0M108.0 142.4a1.8 1.8 0 1 0 3.6 0a1.8 1.8 0 1 0 -3.6 0M108.7 142.9a1.8 1.8 0 1 0 3.6 0a1.8 1.8 0 1 0 -3.6 0M109.5 142.5a1.8 1.8 0 1 0 3.6 0a1.8 1.8 0 1 0 -3.6 0M110.2 142.4a1.8 1.8 0 1 0 3.6 0a1.8 1.8 0 1 0 -3.6 0M111.0 142.4a1.8 1.8 0 1 0 3.6 0a1.8 1.8 0 1 0 -3.6 0M111.7 141.9a1.8 1.8 0 1 0 3.6 0a1.8 1.8 0 1 0 -3.6 0M112.5 141.2a1.8 1.8 0 1 0 3.6 0a1.8 1.8 0 1 0 -3.6 0M113.2 141.2a1.8 1.8 0 1 0 3.6 0a1.8 1.8 0 1 0 -3.6 0M114.0 141.3a1.8 1.8 0 1 0 3.6 0a1.8 1.8 0 1 0 -3.6 0M114.7 141.0a1.8 1.8 0 1 0 3.6 0a1.8 1.8 0 1 0 -3.6 0M115.5 141.0a1.8 1.8 0 1 0 3.6 0a1.8 1.8 0 1 0 -3.6 0M116.2 141.4a1.8 1.8 0 1 0 3.6 0a1.8 1.8 0 1 0 -3.6 0M117.0 141.0a1.8 1.8 0 1 0 3.6 0a1.8 1.8 0 1 0 -3.6 0M117.7 141.0a1.8 1.8 0 1 0 3.6 0a1.8 1.8 0 1 0 -3.6 0M118.5 140.9a1.8 1.8 0 1 0 3.6 0a1.8 1.8 0 1 0 -3.6 0M119.2 140.7a1.8 1.8 0 1 0 3.6 0a1.8 1.8 0 1 0 -3.6 0M120.0 141.2a1.8 1.8 0 1 0 3.6 0a1.8 1.8 0 1 0 -3.6 0M120.7 141.2a1.8 1.8 0 1 0 3.6 0a1.8 1.8 0 1 0 -3.6 0M121.5 140.4a1.8 1.8 0 1 0 3.6 0a1.8 1.8 0 1 0 -3.6 0M122.2 140.3a1.8 1.8 0 1 0 3.6 0a1.8 1.8 0 1 0 -3.6 0M123.0 139.9a1.8 1.8 0 1 0 3.6 0a1.8 1.8 0 1 0 -3.6 0M123.7 140.4a1.8 1.8 0 1 0 3.6 0a1.8 1.8 0 1 0 -3.6 0M124.5 139.6a1.8 1.8 0 1 0 3.6 0a1.8 1.8 0 1 0 -3.6 0M125.2 139.6a1.8 1.8 0 1 0 3.6 0a1.8 1.8 0 1 0 -3.6 0M126.0 140.0a1.8 1.8 0 1 0 3.6 0a1.8 1.8 0 1 0 -3.6 0M126.7 139.9a1.8 1.8 0 1 0 3.6 0a1.8 1.8 0 1 0 -3.6 0M127.5 139.9a1.8 1.8 0 1 0 3.6 0a1.8 1.8 0 1 0 -3.6 0M128.2 139.7a1.8 1.8 0 1 0 3.6 0a1.8 1.8 0 1 0 -3.6 0M128.9 139.5a1.8 1.8 0 1 0 3.6 0a1.8 1.8 0 1 0 -3.6 0M129.7 139.7a1.8 1.8 0 1 0 3.6 0a1.8 1.8 0 1 0 -3.6 0M130.4 139.6a1.8 1.8 0 1 0 3.6 0a1.8 1.8 0 1 0 -3.6 0M131.2 139.1a1.8 1.8 0 1 0 3.6 0a1.8 1.8 0 1 0 -3.6 0M131.9 139.6a1.8 1.8 0 1 0 3.6 0a1.8 1.8 0 1 0 -3.6 0M132.7 139.5a1.8 1.8 0 1 0 3.6 0a1.8 1.8 0 1 0 -3.6 0M133.4 139.0a1.8 1.8 0 1 0 3.6 0a1.8 1.8 0 1 0 -3.6 0M134.2 138.9a1.8 1.8 0 1 0 3.6 0a1.8 1.8 0 1 0 -3.6 0M134.9 138.3a1.8 1.8 0 1 0 3.6 0a1.8 1.8 0 1 0 -3.6 0M135.7 137.9a1.8 1.8 0 1 0 3.6 0a1.8 1.8 0 1 0 -3.6 0M136.4 138.0a1.8 1.8 0 1 0 3.6 0a1.8 1.8 0 1 0 -3.6 0M137.2 137.5a1.8 1.8 0 1 0 3.6 0a1.8 1.8 0 1 0 -3.6 0M137.9 137.7a1.8 1.8 0 1 0 3.6 0a1.8 1.8 0 1 0 -3.6 0M138.7 137.3a1.8 1.8 0 1 0 3.6 0a1.8 1.8 0 1 0 -3.6 0M139.4 137.7a1.8 1.8 0 1 0 3.6 0a1.8 1.8 0 1 0 -3.6 0M140.2 137.2a1.8 1.8 0 1 0 3.6 0a1.8 1.8 0 1 0 -3.6 0M140.9 137.2a1.8 1.8 0 1 0 3.6 0a1.8 1.8 0 1 0 -3.6 0M141.7 137.4a1.8 1.8 0 1 0 3.6 0a1.8 1.8 0 1 0 -3.6 0M142.4 137.7a1.8 1.8 0 1 0 3.6 0a1.8 1.8 0 1 0 -3.6 0M143.2 138.2a1.8 1.8 0 1 0 3.6 0a1.8 1.8 0 1 0 -3.6 0M143.9 138.2a1.8 1.8 0 1 0 3.6 0a1.8 1.8 0 1 0 -3.6 0M144.7 138.1a1.8 1.8 0 1 0 3.6 0a1.8 1.8 0 1 0 -3.6 0M145.4 138.0a1.8 1.8 0 1 0 3.6 0a1.8 1.8 0 1 0 -3.6 0M146.2 138.3a1.8 1.8 0 1 0 3.6 0a1.8 1.8 0 1 0 -3.6 0M146.9 138.4a1.8 1.8 0 1 0 3.6 0a1.8 1.8 0 1 0 -3.6 0M147.7 137.8a1.8 1.8 0 1 0 3.6 0a1.8 1.8 0 1 0 -3.6 0M148.4 138.2a1.8 1.8 0 1 0 3.6 0a1.8 1.8 0 1 0 -3.6 0M149.2 138.0a1.8 1.8 0 1 0 3.6 0a1.8 1.8 0 1 0 -3.6 0M149.9 138.2a1.8 1.8 0 1 0 3.6 0a1.8 1.8 0 1 0 -3.6 0M150.7 138.2a1.8 1.8 0 1 0 3.6 0a1.8 1.8 0 1 0 -3.6 0M151.4 138.1a1.8 1.8 0 1 0 3.6 0a1.8 1.8 0 1 0 -3.6 0M152.2 138.4a1.8 1.8 0 1 0 3.6 0a1.8 1.8 0 1 0 -3.6 0M152.9 138.0a1.8 1.8 0 1 0 3.6 0a1.8 1.8 0 1 0 -3.6 0M153.7 137.7a1.8 1.8 0 1 0 3.6 0a1.8 1.8 0 1 0 -3.6 0M154.4 138.1a1.8 1.8 0 1 0 3.6 0a1.8 1.8 0 1 0 -3.6 0M155.2 137.9a1.8 1.8 0 1 0 3.6 0a1.8 1.8 0 1 0 -3.6 0M155.9 137.6a1.8 1.8 0 1 0 3.6 0a1.8 1.8 0 1 0 -3.6 0M156.7 137.4a1.8 1.8 0 1 0 3.6 0a1.8 1.8 0 1 0 -3.6 0M157.4 137.3a1.8 1.8 0 1 0 3.6 0a1.8 1.8 0 1 0 -3.6 0M158.2 137.0a1.8 1.8 0 1 0 3.6 0a1.8 1.8 0 1 0 -3.6 0M158.9 137.1a1.8 1.8 0 1 0 3.6 0a1.8 1.8 0 1 0 -3.6 0M159.7 137.4a1.8 1.8 0 1 0 3.6 0a1.8 1.8 0 1 0 -3.6 0M160.4 137.4a1.8 1.8 0 1 0 3.6 0a1.8 1.8 0 1 0 -3.6 0M161.2 137.4a1.8 1.8 0 1 0 3.6 0a1.8 1.8 0 1 0 -3.6 0M161.9 137.9a1.8 1.8 0 1 0 3.6 0a1.8 1.8 0 1 0 -3.6 0M162.7 137.8a1.8 1.8 0 1 0 3.6 0a1.8 1.8 0 1 0 -3.6 0M163.4 137.3a1.8 1.8 0 1 0 3.6 0a1.8 1.8 0 1 0 -3.6 0M164.2 137.8a1.8 1.8 0 1 0 3.6 0a1.8 1.8 0 1 0 -3.6 0M165.5 133.2a1.8 1.8 0 1 0 3.6 0a1.8 1.8 0 1 0 -3.6 0M166.2 133.1a1.8 1.8 0 1 0 3.6 0a1.8 1.8 0 1 0 -3.6 0M167.0 133.0a1.8 1.8 0 1 0 3.6 0a1.8 1.8 0 1 0 -3.6 0M167.8 132.6a1.8 1.8 0 1 0 3.6 0a1.8 1.8 0 1 0 -3.6 0M168.5 133.1a1.8 1.8 0 1 0 3.6 0a1.8 1.8 0 1 0 -3.6 0M169.2 133.3a1.8 1.8 0 1 0 3.6 0a1.8 1.8 0 1 0 -3.6 0M170.0 133.0a1.8 1.8 0 1 0 3.6 0a1.8 1.8 0 1 0 -3.6 0M170.8 133.1a1.8 1.8 0 1 0 3.6 0a1.8 1.8 0 1 0 -3.6 0M171.5 132.8a1.8 1.8 0 1 0 3.6 0a1.8 1.8 0 1 0 -3.6 0M172.2 133.0a1.8 1.8 0 1 0 3.6 0a1.8 1.8 0 1 0 -3.6 0M173.0 132.4a1.8 1.8 0 1 0 3.6 0a1.8 1.8 0 1 0 -3.6 0M173.8 132.8a1.8 1.8 0 1 0 3.6 0a1.8 1.8 0 1 0 -3.6 0M174.5 132.4a1.8 1.8 0 1 0 3.6 0a1.8 1.8 0 1 0 -3.6 0M181.2 147.6a1.8 1.8 0 1 0 3.6 0a1.8 1.8 0 1 0 -3.6 0M181.9 147.0a1.8 1.8 0 1 0 3.6 0a1.8 1.8 0 1 0 -3.6 0M182.7 146.6a1.8 1.8 0 1 0 3.6 0a1.8 1.8 0 1 0 -3.6 0M183.4 146.2a1.8 1.8 0 1 0 3.6 0a1.8 1.8 0 1 0 -3.6 0M184.2 146.8a1.8 1.8 0 1 0 3.6 0a1.8 1.8 0 1 0 -3.6 0M184.9 146.1a1.8 1.8 0 1 0 3.6 0a1.8 1.8 0 1 0 -3.6 0M185.7 145.9a1.8 1.8 0 1 0 3.6 0a1.8 1.8 0 1 0 -3.6 0M186.4 146.0a1.8 1.8 0 1 0 3.6 0a1.8 1.8 0 1 0 -3.6 0M187.2 145.9a1.8 1.8 0 1 0 3.6 0a1.8 1.8 0 1 0 -3.6 0M187.9 146.0a1.8 1.8 0 1 0 3.6 0a1.8 1.8 0 1 0 -3.6 0M188.7 145.6a1.8 1.8 0 1 0 3.6 0a1.8 1.8 0 1 0 -3.6 0M189.4 145.7a1.8 1.8 0 1 0 3.6 0a1.8 1.8 0 1 0 -3.6 0M190.2 146.0a1.8 1.8 0 1 0 3.6 0a1.8 1.8 0 1 0 -3.6 0M190.9 146.0a1.8 1.8 0 1 0 3.6 0a1.8 1.8 0 1 0 -3.6 0M191.7 145.6a1.8 1.8 0 1 0 3.6 0a1.8 1.8 0 1 0 -3.6 0M192.4 145.5a1.8 1.8 0 1 0 3.6 0a1.8 1.8 0 1 0 -3.6 0M193.2 145.1a1.8 1.8 0 1 0 3.6 0a1.8 1.8 0 1 0 -3.6 0M193.9 145.3a1.8 1.8 0 1 0 3.6 0a1.8 1.8 0 1 0 -3.6 0M194.7 144.9a1.8 1.8 0 1 0 3.6 0a1.8 1.8 0 1 0 -3.6 0M195.4 144.8a1.8 1.8 0 1 0 3.6 0a1.8 1.8 0 1 0 -3.6 0M196.2 144.5a1.8 1.8 0 1 0 3.6 0a1.8 1.8 0 1 0 -3.6 0M196.9 144.5a1.8 1.8 0 1 0 3.6 0a1.8 1.8 0 1 0 -3.6 0M197.7 144.9a1.8 1.8 0 1 0 3.6 0a1.8 1.8 0 1 0 -3.6 0M198.4 144.7a1.8 1.8 0 1 0 3.6 0a1.8 1.8 0 1 0 -3.6 0M199.2 144.6a1.8 1.8 0 1 0 3.6 0a1.8 1.8 0 1 0 -3.6 0M199.9 144.8a1.8 1.8 0 1 0 3.6 0a1.8 1.8 0 1 0 -3.6 0M200.7 144.7a1.8 1.8 0 1 0 3.6 0a1.8 1.8 0 1 0 -3.6 0M201.4 144.5a1.8 1.8 0 1 0 3.6 0a1.8 1.8 0 1 0 -3.6 0M202.2 144.5a1.8 1.8 0 1 0 3.6 0a1.8 1.8 0 1 0 -3.6 0M202.9 144.3a1.8 1.8 0 1 0 3.6 0a1.8 1.8 0 1 0 -3.6 0M203.7 144.4a1.8 1.8 0 1 0 3.6 0a1.8 1.8 0 1 0 -3.6 0M204.4 144.6a1.8 1.8 0 1 0 3.6 0a1.8 1.8 0 1 0 -3.6 0M205.2 144.6a1.8 1.8 0 1 0 3.6 0a1.8 1.8 0 1 0 -3.6 0M205.9 144.6a1.8 1.8 0 1 0 3.6 0a1.8 1.8 0 1 0 -3.6 0M206.7 144.7a1.8 1.8 0 1 0 3.6 0a1.8 1.8 0 1 0 -3.6 0M207.4 144.3a1.8 1.8 0 1 0 3.6 0a1.8 1.8 0 1 0 -3.6 0M208.2 144.0a1.8 1.8 0 1 0 3.6 0a1.8 1.8 0 1 0 -3.6 0M208.9 143.9a1.8 1.8 0 1 0 3.6 0a1.8 1.8 0 1 0 -3.6 0M209.7 143.8a1.8 1.8 0 1 0 3.6 0a1.8 1.8 0 1 0 -3.6 0M210.4 144.0a1.8 1.8 0 1 0 3.6 0a1.8 1.8 0 1 0 -3.6 0M211.2 143.8a1.8 1.8 0 1 0 3.6 0a1.8 1.8 0 1 0 -3.6 0M211.9 143.9a1.8 1.8 0 1 0 3.6 0a1.8 1.8 0 1 0 -3.6 0M212.7 143.7a1.8 1.8 0 1 0 3.6 0a1.8 1.8 0 1 0 -3.6 0M213.4 143.1a1.8 1.8 0 1 0 3.6 0a1.8 1.8 0 1 0 -3.6 0M214.2 143.3a1.8 1.8 0 1 0 3.6 0a1.8 1.8 0 1 0 -3.6 0M214.9 142.7a1.8 1.8 0 1 0 3.6 0a1.8 1.8 0 1 0 -3.6 0M215.7 142.4a1.8 1.8 0 1 0 3.6 0a1.8 1.8 0 1 0 -3.6 0M216.4 142.2a1.8 1.8 0 1 0 3.6 0a1.8 1.8 0 1 0 -3.6 0M217.2 142.4a1.8 1.8 0 1 0 3.6 0a1.8 1.8 0 1 0 -3.6 0M217.9 141.8a1.8 1.8 0 1 0 3.6 0a1.8 1.8 0 1 0 -3.6 0M218.7 142.1a1.8 1.8 0 1 0 3.6 0a1.8 1.8 0 1 0 -3.6 0M219.4 142.0a1.8 1.8 0 1 0 3.6 0a1.8 1.8 0 1 0 -3.6 0M220.2 142.1a1.8 1.8 0 1 0 3.6 0a1.8 1.8 0 1 0 -3.6 0M220.9 141.7a1.8 1.8 0 1 0 3.6 0a1.8 1.8 0 1 0 -3.6 0M221.7 142.4a1.8 1.8 0 1 0 3.6 0a1.8 1.8 0 1 0 -3.6 0M222.4 142.5a1.8 1.8 0 1 0 3.6 0a1.8 1.8 0 1 0 -3.6 0M223.2 141.9a1.8 1.8 0 1 0 3.6 0a1.8 1.8 0 1 0 -3.6 0M223.9 142.1a1.8 1.8 0 1 0 3.6 0a1.8 1.8 0 1 0 -3.6 0M224.7 142.0a1.8 1.8 0 1 0 3.6 0a1.8 1.8 0 1 0 -3.6 0M225.4 141.8a1.8 1.8 0 1 0 3.6 0a1.8 1.8 0 1 0 -3.6 0M226.2 141.9a1.8 1.8 0 1 0 3.6 0a1.8 1.8 0 1 0 -3.6 0M226.9 142.1a1.8 1.8 0 1 0 3.6 0a1.8 1.8 0 1 0 -3.6 0M227.7 141.7a1.8 1.8 0 1 0 3.6 0a1.8 1.8 0 1 0 -3.6 0M228.4 141.7a1.8 1.8 0 1 0 3.6 0a1.8 1.8 0 1 0 -3.6 0M229.2 141.7a1.8 1.8 0 1 0 3.6 0a1.8 1.8 0 1 0 -3.6 0M229.9 141.7a1.8 1.8 0 1 0 3.6 0a1.8 1.8 0 1 0 -3.6 0M230.7 141.2a1.8 1.8 0 1 0 3.6 0a1.8 1.8 0 1 0 -3.6 0M231.4 141.6a1.8 1.8 0 1 0 3.6 0a1.8 1.8 0 1 0 -3.6 0M232.2 141.8a1.8 1.8 0 1 0 3.6 0a1.8 1.8 0 1 0 -3.6 0M232.9 141.8a1.8 1.8 0 1 0 3.6 0a1.8 1.8 0 1 0 -3.6 0M233.7 141.3a1.8 1.8 0 1 0 3.6 0a1.8 1.8 0 1 0 -3.6 0M234.4 142.1a1.8 1.8 0 1 0 3.6 0a1.8 1.8 0 1 0 -3.6 0M235.2 142.1a1.8 1.8 0 1 0 3.6 0a1.8 1.8 0 1 0 -3.6 0M235.9 141.6a1.8 1.8 0 1 0 3.6 0a1.8 1.8 0 1 0 -3.6 0M236.7 141.6a1.8 1.8 0 1 0 3.6 0a1.8 1.8 0 1 0 -3.6 0M237.4 141.8a1.8 1.8 0 1 0 3.6 0a1.8 1.8 0 1 0 -3.6 0M238.2 141.6a1.8 1.8 0 1 0 3.6 0a1.8 1.8 0 1 0 -3.6 0M238.9 141.1a1.8 1.8 0 1 0 3.6 0a1.8 1.8 0 1 0 -3.6 0M239.7 141.2a1.8 1.8 0 1 0 3.6 0a1.8 1.8 0 1 0 -3.6 0M240.4 141.4a1.8 1.8 0 1 0 3.6 0a1.8 1.8 0 1 0 -3.6 0M241.2 141.8a1.8 1.8 0 1 0 3.6 0a1.8 1.8 0 1 0 -3.6 0M241.9 141.3a1.8 1.8 0 1 0 3.6 0a1.8 1.8 0 1 0 -3.6 0M242.7 141.6a1.8 1.8 0 1 0 3.6 0a1.8 1.8 0 1 0 -3.6 0M243.4 141.7a1.8 1.8 0 1 0 3.6 0a1.8 1.8 0 1 0 -3.6 0M244.2 141.5a1.8 1.8 0 1 0 3.6 0a1.8 1.8 0 1 0 -3.6 0M244.9 141.3a1.8 1.8 0 1 0 3.6 0a1.8 1.8 0 1 0 -3.6 0M245.7 142.3a1.8 1.8 0 1 0 3.6 0a1.8 1.8 0 1 0 -3.6 0M246.4 141.4a1.8 1.8 0 1 0 3.6 0a1.8 1.8 0 1 0 -3.6 0M247.2 141.5a1.8 1.8 0 1 0 3.6 0a1.8 1.8 0 1 0 -3.6 0M247.9 141.3a1.8 1.8 0 1 0 3.6 0a1.8 1.8 0 1 0 -3.6 0M248.7 140.8a1.8 1.8 0 1 0 3.6 0a1.8 1.8 0 1 0 -3.6 0M249.4 140.9a1.8 1.8 0 1 0 3.6 0a1.8 1.8 0 1 0 -3.6 0M250.2 141.2a1.8 1.8 0 1 0 3.6 0a1.8 1.8 0 1 0 -3.6 0M250.9 140.8a1.8 1.8 0 1 0 3.6 0a1.8 1.8 0 1 0 -3.6 0M251.7 141.1a1.8 1.8 0 1 0 3.6 0a1.8 1.8 0 1 0 -3.6 0M252.4 140.7a1.8 1.8 0 1 0 3.6 0a1.8 1.8 0 1 0 -3.6 0M253.2 140.4a1.8 1.8 0 1 0 3.6 0a1.8 1.8 0 1 0 -3.6 0M253.9 140.0a1.8 1.8 0 1 0 3.6 0a1.8 1.8 0 1 0 -3.6 0M254.7 139.7a1.8 1.8 0 1 0 3.6 0a1.8 1.8 0 1 0 -3.6 0M255.4 139.2a1.8 1.8 0 1 0 3.6 0a1.8 1.8 0 1 0 -3.6 0M256.2 139.0a1.8 1.8 0 1 0 3.6 0a1.8 1.8 0 1 0 -3.6 0M256.9 138.3a1.8 1.8 0 1 0 3.6 0a1.8 1.8 0 1 0 -3.6 0M257.7 137.9a1.8 1.8 0 1 0 3.6 0a1.8 1.8 0 1 0 -3.6 0M258.4 137.6a1.8 1.8 0 1 0 3.6 0a1.8 1.8 0 1 0 -3.6 0M259.2 137.7a1.8 1.8 0 1 0 3.6 0a1.8 1.8 0 1 0 -3.6 0M259.9 137.4a1.8 1.8 0 1 0 3.6 0a1.8 1.8 0 1 0 -3.6 0M260.7 137.4a1.8 1.8 0 1 0 3.6 0a1.8 1.8 0 1 0 -3.6 0M261.4 137.8a1.8 1.8 0 1 0 3.6 0a1.8 1.8 0 1 0 -3.6 0M262.2 137.6a1.8 1.8 0 1 0 3.6 0a1.8 1.8 0 1 0 -3.6 0M262.9 137.8a1.8 1.8 0 1 0 3.6 0a1.8 1.8 0 1 0 -3.6 0M263.7 137.9a1.8 1.8 0 1 0 3.6 0a1.8 1.8 0 1 0 -3.6 0M264.4 138.5a1.8 1.8 0 1 0 3.6 0a1.8 1.8 0 1 0 -3.6 0M265.2 137.9a1.8 1.8 0 1 0 3.6 0a1.8 1.8 0 1 0 -3.6 0M265.9 137.5a1.8 1.8 0 1 0 3.6 0a1.8 1.8 0 1 0 -3.6 0M266.7 137.7a1.8 1.8 0 1 0 3.6 0a1.8 1.8 0 1 0 -3.6 0M267.4 137.6a1.8 1.8 0 1 0 3.6 0a1.8 1.8 0 1 0 -3.6 0M268.2 137.1a1.8 1.8 0 1 0 3.6 0a1.8 1.8 0 1 0 -3.6 0M268.9 137.5a1.8 1.8 0 1 0 3.6 0a1.8 1.8 0 1 0 -3.6 0M269.7 137.1a1.8 1.8 0 1 0 3.6 0a1.8 1.8 0 1 0 -3.6 0M270.4 137.5a1.8 1.8 0 1 0 3.6 0a1.8 1.8 0 1 0 -3.6 0M271.2 137.2a1.8 1.8 0 1 0 3.6 0a1.8 1.8 0 1 0 -3.6 0M271.9 137.7a1.8 1.8 0 1 0 3.6 0a1.8 1.8 0 1 0 -3.6 0M272.7 137.3a1.8 1.8 0 1 0 3.6 0a1.8 1.8 0 1 0 -3.6 0M273.4 137.5a1.8 1.8 0 1 0 3.6 0a1.8 1.8 0 1 0 -3.6 0M274.2 137.2a1.8 1.8 0 1 0 3.6 0a1.8 1.8 0 1 0 -3.6 0M274.9 137.0a1.8 1.8 0 1 0 3.6 0a1.8 1.8 0 1 0 -3.6 0M275.7 137.1a1.8 1.8 0 1 0 3.6 0a1.8 1.8 0 1 0 -3.6 0M276.4 137.5a1.8 1.8 0 1 0 3.6 0a1.8 1.8 0 1 0 -3.6 0M277.2 137.5a1.8 1.8 0 1 0 3.6 0a1.8 1.8 0 1 0 -3.6 0M277.9 137.7a1.8 1.8 0 1 0 3.6 0a1.8 1.8 0 1 0 -3.6 0M278.7 137.6a1.8 1.8 0 1 0 3.6 0a1.8 1.8 0 1 0 -3.6 0M279.4 137.1a1.8 1.8 0 1 0 3.6 0a1.8 1.8 0 1 0 -3.6 0M280.2 137.1a1.8 1.8 0 1 0 3.6 0a1.8 1.8 0 1 0 -3.6 0M280.9 137.1a1.8 1.8 0 1 0 3.6 0a1.8 1.8 0 1 0 -3.6 0M281.7 137.0a1.8 1.8 0 1 0 3.6 0a1.8 1.8 0 1 0 -3.6 0M282.4 136.9a1.8 1.8 0 1 0 3.6 0a1.8 1.8 0 1 0 -3.6 0M283.2 136.5a1.8 1.8 0 1 0 3.6 0a1.8 1.8 0 1 0 -3.6 0M283.9 136.4a1.8 1.8 0 1 0 3.6 0a1.8 1.8 0 1 0 -3.6 0M284.7 136.2a1.8 1.8 0 1 0 3.6 0a1.8 1.8 0 1 0 -3.6 0M285.4 135.9a1.8 1.8 0 1 0 3.6 0a1.8 1.8 0 1 0 -3.6 0M286.2 136.3a1.8 1.8 0 1 0 3.6 0a1.8 1.8 0 1 0 -3.6 0M286.9 135.8a1.8 1.8 0 1 0 3.6 0a1.8 1.8 0 1 0 -3.6 0M287.7 136.0a1.8 1.8 0 1 0 3.6 0a1.8 1.8 0 1 0 -3.6 0M288.4 136.3a1.8 1.8 0 1 0 3.6 0a1.8 1.8 0 1 0 -3.6 0M289.2 136.2a1.8 1.8 0 1 0 3.6 0a1.8 1.8 0 1 0 -3.6 0M289.9 136.0a1.8 1.8 0 1 0 3.6 0a1.8 1.8 0 1 0 -3.6 0M290.7 136.1a1.8 1.8 0 1 0 3.6 0a1.8 1.8 0 1 0 -3.6 0M291.4 136.3a1.8 1.8 0 1 0 3.6 0a1.8 1.8 0 1 0 -3.6 0M292.2 136.5a1.8 1.8 0 1 0 3.6 0a1.8 1.8 0 1 0 -3.6 0M292.9 137.0a1.8 1.8 0 1 0 3.6 0a1.8 1.8 0 1 0 -3.6 0M293.7 136.9a1.8 1.8 0 1 0 3.6 0a1.8 1.8 0 1 0 -3.6 0M294.4 136.9a1.8 1.8 0 1 0 3.6 0a1.8 1.8 0 1 0 -3.6 0M295.2 136.6a1.8 1.8 0 1 0 3.6 0a1.8 1.8 0 1 0 -3.6 0M295.9 136.6a1.8 1.8 0 1 0 3.6 0a1.8 1.8 0 1 0 -3.6 0M296.7 136.3a1.8 1.8 0 1 0 3.6 0a1.8 1.8 0 1 0 -3.6 0M297.4 136.5a1.8 1.8 0 1 0 3.6 0a1.8 1.8 0 1 0 -3.6 0M298.2 136.0a1.8 1.8 0 1 0 3.6 0a1.8 1.8 0 1 0 -3.6 0M298.9 136.5a1.8 1.8 0 1 0 3.6 0a1.8 1.8 0 1 0 -3.6 0M299.7 136.5a1.8 1.8 0 1 0 3.6 0a1.8 1.8 0 1 0 -3.6 0M300.4 136.5a1.8 1.8 0 1 0 3.6 0a1.8 1.8 0 1 0 -3.6 0M301.2 136.7a1.8 1.8 0 1 0 3.6 0a1.8 1.8 0 1 0 -3.6 0M301.9 136.8a1.8 1.8 0 1 0 3.6 0a1.8 1.8 0 1 0 -3.6 0M302.7 136.1a1.8 1.8 0 1 0 3.6 0a1.8 1.8 0 1 0 -3.6 0M303.4 136.3a1.8 1.8 0 1 0 3.6 0a1.8 1.8 0 1 0 -3.6 0M304.2 136.0a1.8 1.8 0 1 0 3.6 0a1.8 1.8 0 1 0 -3.6 0M304.9 136.6a1.8 1.8 0 1 0 3.6 0a1.8 1.8 0 1 0 -3.6 0M305.7 136.2a1.8 1.8 0 1 0 3.6 0a1.8 1.8 0 1 0 -3.6 0M306.4 136.6a1.8 1.8 0 1 0 3.6 0a1.8 1.8 0 1 0 -3.6 0M307.2 137.3a1.8 1.8 0 1 0 3.6 0a1.8 1.8 0 1 0 -3.6 0M307.9 137.3a1.8 1.8 0 1 0 3.6 0a1.8 1.8 0 1 0 -3.6 0M308.7 137.2a1.8 1.8 0 1 0 3.6 0a1.8 1.8 0 1 0 -3.6 0M309.4 136.8a1.8 1.8 0 1 0 3.6 0a1.8 1.8 0 1 0 -3.6 0M310.2 136.2a1.8 1.8 0 1 0 3.6 0a1.8 1.8 0 1 0 -3.6 0M310.9 136.0a1.8 1.8 0 1 0 3.6 0a1.8 1.8 0 1 0 -3.6 0M311.7 136.2a1.8 1.8 0 1 0 3.6 0a1.8 1.8 0 1 0 -3.6 0M312.4 136.0a1.8 1.8 0 1 0 3.6 0a1.8 1.8 0 1 0 -3.6 0M313.2 136.8a1.8 1.8 0 1 0 3.6 0a1.8 1.8 0 1 0 -3.6 0M313.9 136.2a1.8 1.8 0 1 0 3.6 0a1.8 1.8 0 1 0 -3.6 0M314.7 136.2a1.8 1.8 0 1 0 3.6 0a1.8 1.8 0 1 0 -3.6 0M315.4 136.1a1.8 1.8 0 1 0 3.6 0a1.8 1.8 0 1 0 -3.6 0M316.2 135.9a1.8 1.8 0 1 0 3.6 0a1.8 1.8 0 1 0 -3.6 0M316.9 136.3a1.8 1.8 0 1 0 3.6 0a1.8 1.8 0 1 0 -3.6 0M317.7 136.2a1.8 1.8 0 1 0 3.6 0a1.8 1.8 0 1 0 -3.6 0M318.4 136.7a1.8 1.8 0 1 0 3.6 0a1.8 1.8 0 1 0 -3.6 0M319.2 136.5a1.8 1.8 0 1 0 3.6 0a1.8 1.8 0 1 0 -3.6 0M319.9 136.4a1.8 1.8 0 1 0 3.6 0a1.8 1.8 0 1 0 -3.6 0M320.7 136.6a1.8 1.8 0 1 0 3.6 0a1.8 1.8 0 1 0 -3.6 0M321.4 136.6a1.8 1.8 0 1 0 3.6 0a1.8 1.8 0 1 0 -3.6 0M322.2 136.6a1.8 1.8 0 1 0 3.6 0a1.8 1.8 0 1 0 -3.6 0M322.9 137.2a1.8 1.8 0 1 0 3.6 0a1.8 1.8 0 1 0 -3.6 0M323.7 137.2a1.8 1.8 0 1 0 3.6 0a1.8 1.8 0 1 0 -3.6 0M324.4 137.0a1.8 1.8 0 1 0 3.6 0a1.8 1.8 0 1 0 -3.6 0M325.2 136.5a1.8 1.8 0 1 0 3.6 0a1.8 1.8 0 1 0 -3.6 0M325.9 136.5a1.8 1.8 0 1 0 3.6 0a1.8 1.8 0 1 0 -3.6 0M326.7 136.3a1.8 1.8 0 1 0 3.6 0a1.8 1.8 0 1 0 -3.6 0M327.4 135.8a1.8 1.8 0 1 0 3.6 0a1.8 1.8 0 1 0 -3.6 0M328.2 135.6a1.8 1.8 0 1 0 3.6 0a1.8 1.8 0 1 0 -3.6 0M328.9 136.3a1.8 1.8 0 1 0 3.6 0a1.8 1.8 0 1 0 -3.6 0M329.7 136.2a1.8 1.8 0 1 0 3.6 0a1.8 1.8 0 1 0 -3.6 0M330.4 136.0a1.8 1.8 0 1 0 3.6 0a1.8 1.8 0 1 0 -3.6 0M331.2 136.2a1.8 1.8 0 1 0 3.6 0a1.8 1.8 0 1 0 -3.6 0M331.9 136.3a1.8 1.8 0 1 0 3.6 0a1.8 1.8 0 1 0 -3.6 0M332.7 136.7a1.8 1.8 0 1 0 3.6 0a1.8 1.8 0 1 0 -3.6 0M333.4 136.5a1.8 1.8 0 1 0 3.6 0a1.8 1.8 0 1 0 -3.6 0M334.2 136.5a1.8 1.8 0 1 0 3.6 0a1.8 1.8 0 1 0 -3.6 0M334.9 136.8a1.8 1.8 0 1 0 3.6 0a1.8 1.8 0 1 0 -3.6 0M335.7 136.8a1.8 1.8 0 1 0 3.6 0a1.8 1.8 0 1 0 -3.6 0M336.4 137.2a1.8 1.8 0 1 0 3.6 0a1.8 1.8 0 1 0 -3.6 0M337.2 136.8a1.8 1.8 0 1 0 3.6 0a1.8 1.8 0 1 0 -3.6 0M337.9 136.7a1.8 1.8 0 1 0 3.6 0a1.8 1.8 0 1 0 -3.6 0M338.7 137.1a1.8 1.8 0 1 0 3.6 0a1.8 1.8 0 1 0 -3.6 0M339.4 136.6a1.8 1.8 0 1 0 3.6 0a1.8 1.8 0 1 0 -3.6 0M340.2 136.8a1.8 1.8 0 1 0 3.6 0a1.8 1.8 0 1 0 -3.6 0M340.9 136.9a1.8 1.8 0 1 0 3.6 0a1.8 1.8 0 1 0 -3.6 0M341.7 136.7a1.8 1.8 0 1 0 3.6 0a1.8 1.8 0 1 0 -3.6 0M342.4 137.0a1.8 1.8 0 1 0 3.6 0a1.8 1.8 0 1 0 -3.6 0M343.2 136.8a1.8 1.8 0 1 0 3.6 0a1.8 1.8 0 1 0 -3.6 0M343.9 136.1a1.8 1.8 0 1 0 3.6 0a1.8 1.8 0 1 0 -3.6 0M344.7 136.2a1.8 1.8 0 1 0 3.6 0a1.8 1.8 0 1 0 -3.6 0M345.4 136.0a1.8 1.8 0 1 0 3.6 0a1.8 1.8 0 1 0 -3.6 0M346.2 136.1a1.8 1.8 0 1 0 3.6 0a1.8 1.8 0 1 0 -3.6 0M346.9 135.8a1.8 1.8 0 1 0 3.6 0a1.8 1.8 0 1 0 -3.6 0M347.7 135.9a1.8 1.8 0 1 0 3.6 0a1.8 1.8 0 1 0 -3.6 0M348.4 135.7a1.8 1.8 0 1 0 3.6 0a1.8 1.8 0 1 0 -3.6 0M349.2 136.0a1.8 1.8 0 1 0 3.6 0a1.8 1.8 0 1 0 -3.6 0M349.9 136.1a1.8 1.8 0 1 0 3.6 0a1.8 1.8 0 1 0 -3.6 0M350.7 136.6a1.8 1.8 0 1 0 3.6 0a1.8 1.8 0 1 0 -3.6 0M351.4 136.5a1.8 1.8 0 1 0 3.6 0a1.8 1.8 0 1 0 -3.6 0M352.2 136.3a1.8 1.8 0 1 0 3.6 0a1.8 1.8 0 1 0 -3.6 0M352.9 136.3a1.8 1.8 0 1 0 3.6 0a1.8 1.8 0 1 0 -3.6 0M353.7 136.0a1.8 1.8 0 1 0 3.6 0a1.8 1.8 0 1 0 -3.6 0M354.4 135.5a1.8 1.8 0 1 0 3.6 0a1.8 1.8 0 1 0 -3.6 0M355.2 135.6a1.8 1.8 0 1 0 3.6 0a1.8 1.8 0 1 0 -3.6 0M355.9 136.3a1.8 1.8 0 1 0 3.6 0a1.8 1.8 0 1 0 -3.6 0M356.7 135.5a1.8 1.8 0 1 0 3.6 0a1.8 1.8 0 1 0 -3.6 0M357.4 135.7a1.8 1.8 0 1 0 3.6 0a1.8 1.8 0 1 0 -3.6 0M358.2 136.1a1.8 1.8 0 1 0 3.6 0a1.8 1.8 0 1 0 -3.6 0M358.9 135.2a1.8 1.8 0 1 0 3.6 0a1.8 1.8 0 1 0 -3.6 0M359.7 135.1a1.8 1.8 0 1 0 3.6 0a1.8 1.8 0 1 0 -3.6 0M360.4 134.4a1.8 1.8 0 1 0 3.6 0a1.8 1.8 0 1 0 -3.6 0M361.2 134.4a1.8 1.8 0 1 0 3.6 0a1.8 1.8 0 1 0 -3.6 0M361.9 134.4a1.8 1.8 0 1 0 3.6 0a1.8 1.8 0 1 0 -3.6 0M362.7 134.2a1.8 1.8 0 1 0 3.6 0a1.8 1.8 0 1 0 -3.6 0M363.4 133.8a1.8 1.8 0 1 0 3.6 0a1.8 1.8 0 1 0 -3.6 0M364.2 133.6a1.8 1.8 0 1 0 3.6 0a1.8 1.8 0 1 0 -3.6 0M364.9 133.2a1.8 1.8 0 1 0 3.6 0a1.8 1.8 0 1 0 -3.6 0M365.7 132.1a1.8 1.8 0 1 0 3.6 0a1.8 1.8 0 1 0 -3.6 0M366.4 131.7a1.8 1.8 0 1 0 3.6 0a1.8 1.8 0 1 0 -3.6 0M368.2 125.0a1.8 1.8 0 1 0 3.6 0a1.8 1.8 0 1 0 -3.6 0M368.9 124.2a1.8 1.8 0 1 0 3.6 0a1.8 1.8 0 1 0 -3.6 0M369.7 123.3a1.8 1.8 0 1 0 3.6 0a1.8 1.8 0 1 0 -3.6 0M370.4 122.3a1.8 1.8 0 1 0 3.6 0a1.8 1.8 0 1 0 -3.6 0M371.2 122.1a1.8 1.8 0 1 0 3.6 0a1.8 1.8 0 1 0 -3.6 0M371.9 121.9a1.8 1.8 0 1 0 3.6 0a1.8 1.8 0 1 0 -3.6 0M372.7 120.9a1.8 1.8 0 1 0 3.6 0a1.8 1.8 0 1 0 -3.6 0M373.4 121.1a1.8 1.8 0 1 0 3.6 0a1.8 1.8 0 1 0 -3.6 0M374.2 120.5a1.8 1.8 0 1 0 3.6 0a1.8 1.8 0 1 0 -3.6 0M374.9 120.7a1.8 1.8 0 1 0 3.6 0a1.8 1.8 0 1 0 -3.6 0M375.7 119.9a1.8 1.8 0 1 0 3.6 0a1.8 1.8 0 1 0 -3.6 0M376.4 119.9a1.8 1.8 0 1 0 3.6 0a1.8 1.8 0 1 0 -3.6 0M377.2 120.2a1.8 1.8 0 1 0 3.6 0a1.8 1.8 0 1 0 -3.6 0M377.9 119.9a1.8 1.8 0 1 0 3.6 0a1.8 1.8 0 1 0 -3.6 0M378.7 119.6a1.8 1.8 0 1 0 3.6 0a1.8 1.8 0 1 0 -3.6 0M379.4 120.1a1.8 1.8 0 1 0 3.6 0a1.8 1.8 0 1 0 -3.6 0M380.2 119.7a1.8 1.8 0 1 0 3.6 0a1.8 1.8 0 1 0 -3.6 0M380.9 119.6a1.8 1.8 0 1 0 3.6 0a1.8 1.8 0 1 0 -3.6 0M381.7 119.0a1.8 1.8 0 1 0 3.6 0a1.8 1.8 0 1 0 -3.6 0M382.4 118.8a1.8 1.8 0 1 0 3.6 0a1.8 1.8 0 1 0 -3.6 0M383.2 118.6a1.8 1.8 0 1 0 3.6 0a1.8 1.8 0 1 0 -3.6 0M383.9 118.7a1.8 1.8 0 1 0 3.6 0a1.8 1.8 0 1 0 -3.6 0M384.7 119.1a1.8 1.8 0 1 0 3.6 0a1.8 1.8 0 1 0 -3.6 0M385.4 118.2a1.8 1.8 0 1 0 3.6 0a1.8 1.8 0 1 0 -3.6 0M386.2 118.6a1.8 1.8 0 1 0 3.6 0a1.8 1.8 0 1 0 -3.6 0M386.9 118.5a1.8 1.8 0 1 0 3.6 0a1.8 1.8 0 1 0 -3.6 0M387.7 118.3a1.8 1.8 0 1 0 3.6 0a1.8 1.8 0 1 0 -3.6 0M388.4 118.6a1.8 1.8 0 1 0 3.6 0a1.8 1.8 0 1 0 -3.6 0M389.2 118.2a1.8 1.8 0 1 0 3.6 0a1.8 1.8 0 1 0 -3.6 0M389.9 118.1a1.8 1.8 0 1 0 3.6 0a1.8 1.8 0 1 0 -3.6 0M390.7 118.5a1.8 1.8 0 1 0 3.6 0a1.8 1.8 0 1 0 -3.6 0M391.4 117.8a1.8 1.8 0 1 0 3.6 0a1.8 1.8 0 1 0 -3.6 0M392.2 117.5a1.8 1.8 0 1 0 3.6 0a1.8 1.8 0 1 0 -3.6 0M392.9 117.5a1.8 1.8 0 1 0 3.6 0a1.8 1.8 0 1 0 -3.6 0M393.7 117.6a1.8 1.8 0 1 0 3.6 0a1.8 1.8 0 1 0 -3.6 0M394.4 117.7a1.8 1.8 0 1 0 3.6 0a1.8 1.8 0 1 0 -3.6 0M395.2 117.3a1.8 1.8 0 1 0 3.6 0a1.8 1.8 0 1 0 -3.6 0M395.9 116.7a1.8 1.8 0 1 0 3.6 0a1.8 1.8 0 1 0 -3.6 0M396.7 116.5a1.8 1.8 0 1 0 3.6 0a1.8 1.8 0 1 0 -3.6 0M397.4 116.4a1.8 1.8 0 1 0 3.6 0a1.8 1.8 0 1 0 -3.6 0M398.2 116.1a1.8 1.8 0 1 0 3.6 0a1.8 1.8 0 1 0 -3.6 0M398.9 115.8a1.8 1.8 0 1 0 3.6 0a1.8 1.8 0 1 0 -3.6 0M399.7 115.9a1.8 1.8 0 1 0 3.6 0a1.8 1.8 0 1 0 -3.6 0M400.4 116.4a1.8 1.8 0 1 0 3.6 0a1.8 1.8 0 1 0 -3.6 0M401.2 117.0a1.8 1.8 0 1 0 3.6 0a1.8 1.8 0 1 0 -3.6 0M401.9 117.0a1.8 1.8 0 1 0 3.6 0a1.8 1.8 0 1 0 -3.6 0M402.7 116.9a1.8 1.8 0 1 0 3.6 0a1.8 1.8 0 1 0 -3.6 0M403.4 116.4a1.8 1.8 0 1 0 3.6 0a1.8 1.8 0 1 0 -3.6 0M404.2 116.8a1.8 1.8 0 1 0 3.6 0a1.8 1.8 0 1 0 -3.6 0M404.9 116.3a1.8 1.8 0 1 0 3.6 0a1.8 1.8 0 1 0 -3.6 0M405.7 116.7a1.8 1.8 0 1 0 3.6 0a1.8 1.8 0 1 0 -3.6 0M406.4 116.7a1.8 1.8 0 1 0 3.6 0a1.8 1.8 0 1 0 -3.6 0M407.2 116.6a1.8 1.8 0 1 0 3.6 0a1.8 1.8 0 1 0 -3.6 0M407.9 116.8a1.8 1.8 0 1 0 3.6 0a1.8 1.8 0 1 0 -3.6 0M408.7 116.5a1.8 1.8 0 1 0 3.6 0a1.8 1.8 0 1 0 -3.6 0M409.4 116.6a1.8 1.8 0 1 0 3.6 0a1.8 1.8 0 1 0 -3.6 0M410.2 116.0a1.8 1.8 0 1 0 3.6 0a1.8 1.8 0 1 0 -3.6 0M410.9 116.2a1.8 1.8 0 1 0 3.6 0a1.8 1.8 0 1 0 -3.6 0M411.7 116.0a1.8 1.8 0 1 0 3.6 0a1.8 1.8 0 1 0 -3.6 0M412.4 115.6a1.8 1.8 0 1 0 3.6 0a1.8 1.8 0 1 0 -3.6 0M413.2 115.8a1.8 1.8 0 1 0 3.6 0a1.8 1.8 0 1 0 -3.6 0M413.9 116.0a1.8 1.8 0 1 0 3.6 0a1.8 1.8 0 1 0 -3.6 0M414.7 115.9a1.8 1.8 0 1 0 3.6 0a1.8 1.8 0 1 0 -3.6 0M415.4 116.0a1.8 1.8 0 1 0 3.6 0a1.8 1.8 0 1 0 -3.6 0M416.2 115.5a1.8 1.8 0 1 0 3.6 0a1.8 1.8 0 1 0 -3.6 0M416.9 115.4a1.8 1.8 0 1 0 3.6 0a1.8 1.8 0 1 0 -3.6 0M417.7 116.0a1.8 1.8 0 1 0 3.6 0a1.8 1.8 0 1 0 -3.6 0M418.4 115.2a1.8 1.8 0 1 0 3.6 0a1.8 1.8 0 1 0 -3.6 0M419.2 115.2a1.8 1.8 0 1 0 3.6 0a1.8 1.8 0 1 0 -3.6 0M419.9 115.0a1.8 1.8 0 1 0 3.6 0a1.8 1.8 0 1 0 -3.6 0M420.7 115.0a1.8 1.8 0 1 0 3.6 0a1.8 1.8 0 1 0 -3.6 0M421.4 115.2a1.8 1.8 0 1 0 3.6 0a1.8 1.8 0 1 0 -3.6 0M422.2 115.8a1.8 1.8 0 1 0 3.6 0a1.8 1.8 0 1 0 -3.6 0M422.9 115.3a1.8 1.8 0 1 0 3.6 0a1.8 1.8 0 1 0 -3.6 0M423.7 115.9a1.8 1.8 0 1 0 3.6 0a1.8 1.8 0 1 0 -3.6 0M424.4 115.8a1.8 1.8 0 1 0 3.6 0a1.8 1.8 0 1 0 -3.6 0M425.2 115.8a1.8 1.8 0 1 0 3.6 0a1.8 1.8 0 1 0 -3.6 0M425.9 115.4a1.8 1.8 0 1 0 3.6 0a1.8 1.8 0 1 0 -3.6 0M426.7 115.6a1.8 1.8 0 1 0 3.6 0a1.8 1.8 0 1 0 -3.6 0M427.4 115.5a1.8 1.8 0 1 0 3.6 0a1.8 1.8 0 1 0 -3.6 0M428.2 115.4a1.8 1.8 0 1 0 3.6 0a1.8 1.8 0 1 0 -3.6 0M428.9 115.6a1.8 1.8 0 1 0 3.6 0a1.8 1.8 0 1 0 -3.6 0M429.7 115.1a1.8 1.8 0 1 0 3.6 0a1.8 1.8 0 1 0 -3.6 0M430.4 115.3a1.8 1.8 0 1 0 3.6 0a1.8 1.8 0 1 0 -3.6 0M431.2 115.3a1.8 1.8 0 1 0 3.6 0a1.8 1.8 0 1 0 -3.6 0M431.9 115.1a1.8 1.8 0 1 0 3.6 0a1.8 1.8 0 1 0 -3.6 0M432.7 115.1a1.8 1.8 0 1 0 3.6 0a1.8 1.8 0 1 0 -3.6 0M433.4 115.4a1.8 1.8 0 1 0 3.6 0a1.8 1.8 0 1 0 -3.6 0M434.2 116.0a1.8 1.8 0 1 0 3.6 0a1.8 1.8 0 1 0 -3.6 0M434.9 115.7a1.8 1.8 0 1 0 3.6 0a1.8 1.8 0 1 0 -3.6 0M435.7 116.1a1.8 1.8 0 1 0 3.6 0a1.8 1.8 0 1 0 -3.6 0M436.4 116.0a1.8 1.8 0 1 0 3.6 0a1.8 1.8 0 1 0 -3.6 0M437.2 116.2a1.8 1.8 0 1 0 3.6 0a1.8 1.8 0 1 0 -3.6 0M437.9 115.9a1.8 1.8 0 1 0 3.6 0a1.8 1.8 0 1 0 -3.6 0M438.7 116.3a1.8 1.8 0 1 0 3.6 0a1.8 1.8 0 1 0 -3.6 0M439.4 115.7a1.8 1.8 0 1 0 3.6 0a1.8 1.8 0 1 0 -3.6 0M440.2 115.6a1.8 1.8 0 1 0 3.6 0a1.8 1.8 0 1 0 -3.6 0M440.9 116.1a1.8 1.8 0 1 0 3.6 0a1.8 1.8 0 1 0 -3.6 0M441.7 116.0a1.8 1.8 0 1 0 3.6 0a1.8 1.8 0 1 0 -3.6 0M442.4 116.2a1.8 1.8 0 1 0 3.6 0a1.8 1.8 0 1 0 -3.6 0M443.2 116.3a1.8 1.8 0 1 0 3.6 0a1.8 1.8 0 1 0 -3.6 0M443.9 116.2a1.8 1.8 0 1 0 3.6 0a1.8 1.8 0 1 0 -3.6 0M444.7 115.9a1.8 1.8 0 1 0 3.6 0a1.8 1.8 0 1 0 -3.6 0M445.4 116.0a1.8 1.8 0 1 0 3.6 0a1.8 1.8 0 1 0 -3.6 0M446.2 115.6a1.8 1.8 0 1 0 3.6 0a1.8 1.8 0 1 0 -3.6 0M446.9 115.7a1.8 1.8 0 1 0 3.6 0a1.8 1.8 0 1 0 -3.6 0M447.7 115.8a1.8 1.8 0 1 0 3.6 0a1.8 1.8 0 1 0 -3.6 0M448.4 115.5a1.8 1.8 0 1 0 3.6 0a1.8 1.8 0 1 0 -3.6 0M449.2 115.6a1.8 1.8 0 1 0 3.6 0a1.8 1.8 0 1 0 -3.6 0M449.9 116.3a1.8 1.8 0 1 0 3.6 0a1.8 1.8 0 1 0 -3.6 0M450.7 116.6a1.8 1.8 0 1 0 3.6 0a1.8 1.8 0 1 0 -3.6 0M451.4 116.4a1.8 1.8 0 1 0 3.6 0a1.8 1.8 0 1 0 -3.6 0M452.2 116.5a1.8 1.8 0 1 0 3.6 0a1.8 1.8 0 1 0 -3.6 0M452.9 116.7a1.8 1.8 0 1 0 3.6 0a1.8 1.8 0 1 0 -3.6 0M453.7 116.7a1.8 1.8 0 1 0 3.6 0a1.8 1.8 0 1 0 -3.6 0M454.4 116.6a1.8 1.8 0 1 0 3.6 0a1.8 1.8 0 1 0 -3.6 0M455.2 116.8a1.8 1.8 0 1 0 3.6 0a1.8 1.8 0 1 0 -3.6 0M455.9 116.2a1.8 1.8 0 1 0 3.6 0a1.8 1.8 0 1 0 -3.6 0M456.7 116.7a1.8 1.8 0 1 0 3.6 0a1.8 1.8 0 1 0 -3.6 0M457.4 116.7a1.8 1.8 0 1 0 3.6 0a1.8 1.8 0 1 0 -3.6 0M458.2 116.6a1.8 1.8 0 1 0 3.6 0a1.8 1.8 0 1 0 -3.6 0M458.9 116.6a1.8 1.8 0 1 0 3.6 0a1.8 1.8 0 1 0 -3.6 0M459.7 116.7a1.8 1.8 0 1 0 3.6 0a1.8 1.8 0 1 0 -3.6 0M460.4 116.2a1.8 1.8 0 1 0 3.6 0a1.8 1.8 0 1 0 -3.6 0M461.2 116.2a1.8 1.8 0 1 0 3.6 0a1.8 1.8 0 1 0 -3.6 0M173.9 137.9a2.0 2.0 0 1 0 4.0 0a2.0 2.0 0 1 0 -4.0 0M174.8 138.1a2.0 2.0 0 1 0 4.0 0a2.0 2.0 0 1 0 -4.0 0M180.1 157.4a2.0 2.0 0 1 0 4.0 0a2.0 2.0 0 1 0 -4.0 0M178.8 161.2a2.0 2.0 0 1 0 4.0 0a2.0 2.0 0 1 0 -4.0 0M177.4 164.0a2.0 2.0 0 1 0 4.0 0a2.0 2.0 0 1 0 -4.0 0M175.9 169.6a2.0 2.0 0 1 0 4.0 0a2.0 2.0 0 1 0 -4.0 0M367.2 129.3a2.0 2.0 0 1 0 4.0 0a2.0 2.0 0 1 0 -4.0 0"/><path clip-path="url(#cp)" fill="#000000" d="M75.7 219.4a1.8 1.8 0 1 0 3.6 0a1.8 1.8 0 1 0 -3.6 0M76.5 219.4a1.8 1.8 0 1 0 3.6 0a1.8 1.8 0 1 0 -3.6 0M77.2 219.5a1.8 1.8 0 1 0 3.6 0a1.8 1.8 0 1 0 -3.6 0M78.0 219.8a1.8 1.8 0 1 0 3.6 0a1.8 1.8 0 1 0 -3.6 0M78.7 220.0a1.8 1.8 0 1 0 3.6 0a1.8 1.8 0 1 0 -3.6 0M79.5 220.1a1.8 1.8 0 1 0 3.6 0a1.8 1.8 0 1 0 -3.6 0M80.2 219.8a1.8 1.8 0 1 0 3.6 0a1.8 1.8 0 1 0 -3.6 0M81.0 219.7a1.8 1.8 0 1 0 3.6 0a1.8 1.8 0 1 0 -3.6 0M81.7 219.7a1.8 1.8 0 1 0 3.6 0a1.8 1.8 0 1 0 -3.6 0M82.5 219.3a1.8 1.8 0 1 0 3.6 0a1.8 1.8 0 1 0 -3.6 0M83.2 219.4a1.8 1.8 0 1 0 3.6 0a1.8 1.8 0 1 0 -3.6 0M84.0 219.3a1.8 1.8 0 1 0 3.6 0a1.8 1.8 0 1 0 -3.6 0M84.7 219.8a1.8 1.8 0 1 0 3.6 0a1.8 1.8 0 1 0 -3.6 0M85.5 219.3a1.8 1.8 0 1 0 3.6 0a1.8 1.8 0 1 0 -3.6 0M86.2 219.3a1.8 1.8 0 1 0 3.6 0a1.8 1.8 0 1 0 -3.6 0M87.0 219.0a1.8 1.8 0 1 0 3.6 0a1.8 1.8 0 1 0 -3.6 0M87.7 219.1a1.8 1.8 0 1 0 3.6 0a1.8 1.8 0 1 0 -3.6 0M88.5 218.6a1.8 1.8 0 1 0 3.6 0a1.8 1.8 0 1 0 -3.6 0M89.2 219.0a1.8 1.8 0 1 0 3.6 0a1.8 1.8 0 1 0 -3.6 0M90.0 218.7a1.8 1.8 0 1 0 3.6 0a1.8 1.8 0 1 0 -3.6 0M90.7 218.1a1.8 1.8 0 1 0 3.6 0a1.8 1.8 0 1 0 -3.6 0M91.5 218.7a1.8 1.8 0 1 0 3.6 0a1.8 1.8 0 1 0 -3.6 0M92.2 218.1a1.8 1.8 0 1 0 3.6 0a1.8 1.8 0 1 0 -3.6 0M93.0 217.9a1.8 1.8 0 1 0 3.6 0a1.8 1.8 0 1 0 -3.6 0M93.7 217.6a1.8 1.8 0 1 0 3.6 0a1.8 1.8 0 1 0 -3.6 0M94.5 218.2a1.8 1.8 0 1 0 3.6 0a1.8 1.8 0 1 0 -3.6 0M95.2 217.4a1.8 1.8 0 1 0 3.6 0a1.8 1.8 0 1 0 -3.6 0M96.0 217.4a1.8 1.8 0 1 0 3.6 0a1.8 1.8 0 1 0 -3.6 0M96.7 217.7a1.8 1.8 0 1 0 3.6 0a1.8 1.8 0 1 0 -3.6 0M97.5 217.5a1.8 1.8 0 1 0 3.6 0a1.8 1.8 0 1 0 -3.6 0M98.2 217.0a1.8 1.8 0 1 0 3.6 0a1.8 1.8 0 1 0 -3.6 0M99.0 217.4a1.8 1.8 0 1 0 3.6 0a1.8 1.8 0 1 0 -3.6 0M99.7 216.3a1.8 1.8 0 1 0 3.6 0a1.8 1.8 0 1 0 -3.6 0M100.5 216.5a1.8 1.8 0 1 0 3.6 0a1.8 1.8 0 1 0 -3.6 0M101.2 216.4a1.8 1.8 0 1 0 3.6 0a1.8 1.8 0 1 0 -3.6 0M102.0 216.5a1.8 1.8 0 1 0 3.6 0a1.8 1.8 0 1 0 -3.6 0M102.7 216.4a1.8 1.8 0 1 0 3.6 0a1.8 1.8 0 1 0 -3.6 0M103.5 216.0a1.8 1.8 0 1 0 3.6 0a1.8 1.8 0 1 0 -3.6 0M104.2 216.3a1.8 1.8 0 1 0 3.6 0a1.8 1.8 0 1 0 -3.6 0M105.0 216.9a1.8 1.8 0 1 0 3.6 0a1.8 1.8 0 1 0 -3.6 0M105.7 217.0a1.8 1.8 0 1 0 3.6 0a1.8 1.8 0 1 0 -3.6 0M106.5 216.5a1.8 1.8 0 1 0 3.6 0a1.8 1.8 0 1 0 -3.6 0M107.2 216.5a1.8 1.8 0 1 0 3.6 0a1.8 1.8 0 1 0 -3.6 0M108.0 216.9a1.8 1.8 0 1 0 3.6 0a1.8 1.8 0 1 0 -3.6 0M108.7 216.5a1.8 1.8 0 1 0 3.6 0a1.8 1.8 0 1 0 -3.6 0M109.5 216.7a1.8 1.8 0 1 0 3.6 0a1.8 1.8 0 1 0 -3.6 0M110.2 216.4a1.8 1.8 0 1 0 3.6 0a1.8 1.8 0 1 0 -3.6 0M111.0 216.4a1.8 1.8 0 1 0 3.6 0a1.8 1.8 0 1 0 -3.6 0M111.7 216.0a1.8 1.8 0 1 0 3.6 0a1.8 1.8 0 1 0 -3.6 0M112.5 216.1a1.8 1.8 0 1 0 3.6 0a1.8 1.8 0 1 0 -3.6 0M113.2 215.9a1.8 1.8 0 1 0 3.6 0a1.8 1.8 0 1 0 -3.6 0M114.0 216.5a1.8 1.8 0 1 0 3.6 0a1.8 1.8 0 1 0 -3.6 0M114.7 216.4a1.8 1.8 0 1 0 3.6 0a1.8 1.8 0 1 0 -3.6 0M115.5 215.9a1.8 1.8 0 1 0 3.6 0a1.8 1.8 0 1 0 -3.6 0M116.2 216.6a1.8 1.8 0 1 0 3.6 0a1.8 1.8 0 1 0 -3.6 0M117.0 216.4a1.8 1.8 0 1 0 3.6 0a1.8 1.8 0 1 0 -3.6 0M117.7 216.2a1.8 1.8 0 1 0 3.6 0a1.8 1.8 0 1 0 -3.6 0M118.5 216.8a1.8 1.8 0 1 0 3.6 0a1.8 1.8 0 1 0 -3.6 0M119.2 216.8a1.8 1.8 0 1 0 3.6 0a1.8 1.8 0 1 0 -3.6 0M120.0 217.2a1.8 1.8 0 1 0 3.6 0a1.8 1.8 0 1 0 -3.6 0M120.7 216.9a1.8 1.8 0 1 0 3.6 0a1.8 1.8 0 1 0 -3.6 0M121.5 217.3a1.8 1.8 0 1 0 3.6 0a1.8 1.8 0 1 0 -3.6 0M122.2 216.9a1.8 1.8 0 1 0 3.6 0a1.8 1.8 0 1 0 -3.6 0M123.0 217.5a1.8 1.8 0 1 0 3.6 0a1.8 1.8 0 1 0 -3.6 0M123.7 217.2a1.8 1.8 0 1 0 3.6 0a1.8 1.8 0 1 0 -3.6 0M124.5 217.3a1.8 1.8 0 1 0 3.6 0a1.8 1.8 0 1 0 -3.6 0M125.2 217.7a1.8 1.8 0 1 0 3.6 0a1.8 1.8 0 1 0 -3.6 0M126.0 216.6a1.8 1.8 0 1 0 3.6 0a1.8 1.8 0 1 0 -3.6 0M126.7 216.7a1.8 1.8 0 1 0 3.6 0a1.8 1.8 0 1 0 -3.6 0M127.5 216.5a1.8 1.8 0 1 0 3.6 0a1.8 1.8 0 1 0 -3.6 0M128.2 216.9a1.8 1.8 0 1 0 3.6 0a1.8 1.8 0 1 0 -3.6 0M128.9 216.7a1.8 1.8 0 1 0 3.6 0a1.8 1.8 0 1 0 -3.6 0M129.7 217.2a1.8 1.8 0 1 0 3.6 0a1.8 1.8 0 1 0 -3.6 0M130.4 217.1a1.8 1.8 0 1 0 3.6 0a1.8 1.8 0 1 0 -3.6 0M131.2 217.2a1.8 1.8 0 1 0 3.6 0a1.8 1.8 0 1 0 -3.6 0M131.9 217.6a1.8 1.8 0 1 0 3.6 0a1.8 1.8 0 1 0 -3.6 0M132.7 217.0a1.8 1.8 0 1 0 3.6 0a1.8 1.8 0 1 0 -3.6 0M133.4 217.4a1.8 1.8 0 1 0 3.6 0a1.8 1.8 0 1 0 -3.6 0M134.2 217.3a1.8 1.8 0 1 0 3.6 0a1.8 1.8 0 1 0 -3.6 0M134.9 217.5a1.8 1.8 0 1 0 3.6 0a1.8 1.8 0 1 0 -3.6 0M135.7 216.9a1.8 1.8 0 1 0 3.6 0a1.8 1.8 0 1 0 -3.6 0M136.4 216.6a1.8 1.8 0 1 0 3.6 0a1.8 1.8 0 1 0 -3.6 0M137.2 216.8a1.8 1.8 0 1 0 3.6 0a1.8 1.8 0 1 0 -3.6 0M137.9 216.7a1.8 1.8 0 1 0 3.6 0a1.8 1.8 0 1 0 -3.6 0M138.7 216.2a1.8 1.8 0 1 0 3.6 0a1.8 1.8 0 1 0 -3.6 0M139.4 216.9a1.8 1.8 0 1 0 3.6 0a1.8 1.8 0 1 0 -3.6 0M140.2 216.6a1.8 1.8 0 1 0 3.6 0a1.8 1.8 0 1 0 -3.6 0M140.9 216.2a1.8 1.8 0 1 0 3.6 0a1.8 1.8 0 1 0 -3.6 0M141.7 216.1a1.8 1.8 0 1 0 3.6 0a1.8 1.8 0 1 0 -3.6 0M142.4 216.5a1.8 1.8 0 1 0 3.6 0a1.8 1.8 0 1 0 -3.6 0M143.2 216.5a1.8 1.8 0 1 0 3.6 0a1.8 1.8 0 1 0 -3.6 0M143.9 216.3a1.8 1.8 0 1 0 3.6 0a1.8 1.8 0 1 0 -3.6 0M144.7 216.9a1.8 1.8 0 1 0 3.6 0a1.8 1.8 0 1 0 -3.6 0M145.4 216.7a1.8 1.8 0 1 0 3.6 0a1.8 1.8 0 1 0 -3.6 0M146.2 217.1a1.8 1.8 0 1 0 3.6 0a1.8 1.8 0 1 0 -3.6 0M146.9 216.9a1.8 1.8 0 1 0 3.6 0a1.8 1.8 0 1 0 -3.6 0M147.7 216.7a1.8 1.8 0 1 0 3.6 0a1.8 1.8 0 1 0 -3.6 0M148.4 216.5a1.8 1.8 0 1 0 3.6 0a1.8 1.8 0 1 0 -3.6 0M149.2 217.0a1.8 1.8 0 1 0 3.6 0a1.8 1.8 0 1 0 -3.6 0M149.9 216.2a1.8 1.8 0 1 0 3.6 0a1.8 1.8 0 1 0 -3.6 0M150.7 216.6a1.8 1.8 0 1 0 3.6 0a1.8 1.8 0 1 0 -3.6 0M151.4 216.1a1.8 1.8 0 1 0 3.6 0a1.8 1.8 0 1 0 -3.6 0M152.2 216.0a1.8 1.8 0 1 0 3.6 0a1.8 1.8 0 1 0 -3.6 0M152.9 216.1a1.8 1.8 0 1 0 3.6 0a1.8 1.8 0 1 0 -3.6 0M153.7 215.8a1.8 1.8 0 1 0 3.6 0a1.8 1.8 0 1 0 -3.6 0M154.4 215.8a1.8 1.8 0 1 0 3.6 0a1.8 1.8 0 1 0 -3.6 0M155.2 215.7a1.8 1.8 0 1 0 3.6 0a1.8 1.8 0 1 0 -3.6 0M155.9 215.8a1.8 1.8 0 1 0 3.6 0a1.8 1.8 0 1 0 -3.6 0M156.7 215.5a1.8 1.8 0 1 0 3.6 0a1.8 1.8 0 1 0 -3.6 0M157.4 216.0a1.8 1.8 0 1 0 3.6 0a1.8 1.8 0 1 0 -3.6 0M158.2 215.9a1.8 1.8 0 1 0 3.6 0a1.8 1.8 0 1 0 -3.6 0M158.9 216.1a1.8 1.8 0 1 0 3.6 0a1.8 1.8 0 1 0 -3.6 0M159.7 215.9a1.8 1.8 0 1 0 3.6 0a1.8 1.8 0 1 0 -3.6 0M160.4 215.3a1.8 1.8 0 1 0 3.6 0a1.8 1.8 0 1 0 -3.6 0M161.2 215.0a1.8 1.8 0 1 0 3.6 0a1.8 1.8 0 1 0 -3.6 0M161.9 214.9a1.8 1.8 0 1 0 3.6 0a1.8 1.8 0 1 0 -3.6 0M162.7 214.8a1.8 1.8 0 1 0 3.6 0a1.8 1.8 0 1 0 -3.6 0M163.4 214.8a1.8 1.8 0 1 0 3.6 0a1.8 1.8 0 1 0 -3.6 0M164.2 215.2a1.8 1.8 0 1 0 3.6 0a1.8 1.8 0 1 0 -3.6 0M164.9 214.8a1.8 1.8 0 1 0 3.6 0a1.8 1.8 0 1 0 -3.6 0M165.7 214.9a1.8 1.8 0 1 0 3.6 0a1.8 1.8 0 1 0 -3.6 0M166.4 215.4a1.8 1.8 0 1 0 3.6 0a1.8 1.8 0 1 0 -3.6 0M167.2 215.3a1.8 1.8 0 1 0 3.6 0a1.8 1.8 0 1 0 -3.6 0M167.9 215.6a1.8 1.8 0 1 0 3.6 0a1.8 1.8 0 1 0 -3.6 0M168.7 216.2a1.8 1.8 0 1 0 3.6 0a1.8 1.8 0 1 0 -3.6 0M169.4 216.0a1.8 1.8 0 1 0 3.6 0a1.8 1.8 0 1 0 -3.6 0M170.2 215.6a1.8 1.8 0 1 0 3.6 0a1.8 1.8 0 1 0 -3.6 0M170.9 215.0a1.8 1.8 0 1 0 3.6 0a1.8 1.8 0 1 0 -3.6 0M171.7 215.2a1.8 1.8 0 1 0 3.6 0a1.8 1.8 0 1 0 -3.6 0M172.4 215.7a1.8 1.8 0 1 0 3.6 0a1.8 1.8 0 1 0 -3.6 0M173.2 215.9a1.8 1.8 0 1 0 3.6 0a1.8 1.8 0 1 0 -3.6 0M173.9 215.5a1.8 1.8 0 1 0 3.6 0a1.8 1.8 0 1 0 -3.6 0M174.7 216.3a1.8 1.8 0 1 0 3.6 0a1.8 1.8 0 1 0 -3.6 0M181.2 240.0a1.8 1.8 0 1 0 3.6 0a1.8 1.8 0 1 0 -3.6 0M181.9 239.9a1.8 1.8 0 1 0 3.6 0a1.8 1.8 0 1 0 -3.6 0M182.7 239.6a1.8 1.8 0 1 0 3.6 0a1.8 1.8 0 1 0 -3.6 0M183.4 239.7a1.8 1.8 0 1 0 3.6 0a1.8 1.8 0 1 0 -3.6 0M184.2 239.9a1.8 1.8 0 1 0 3.6 0a1.8 1.8 0 1 0 -3.6 0M184.9 239.8a1.8 1.8 0 1 0 3.6 0a1.8 1.8 0 1 0 -3.6 0M185.7 239.7a1.8 1.8 0 1 0 3.6 0a1.8 1.8 0 1 0 -3.6 0M186.4 240.0a1.8 1.8 0 1 0 3.6 0a1.8 1.8 0 1 0 -3.6 0M187.2 240.2a1.8 1.8 0 1 0 3.6 0a1.8 1.8 0 1 0 -3.6 0M187.9 239.7a1.8 1.8 0 1 0 3.6 0a1.8 1.8 0 1 0 -3.6 0M188.7 239.8a1.8 1.8 0 1 0 3.6 0a1.8 1.8 0 1 0 -3.6 0M189.4 240.6a1.8 1.8 0 1 0 3.6 0a1.8 1.8 0 1 0 -3.6 0M190.2 239.8a1.8 1.8 0 1 0 3.6 0a1.8 1.8 0 1 0 -3.6 0M190.9 240.2a1.8 1.8 0 1 0 3.6 0a1.8 1.8 0 1 0 -3.6 0M191.7 239.9a1.8 1.8 0 1 0 3.6 0a1.8 1.8 0 1 0 -3.6 0M192.4 239.9a1.8 1.8 0 1 0 3.6 0a1.8 1.8 0 1 0 -3.6 0M193.2 239.2a1.8 1.8 0 1 0 3.6 0a1.8 1.8 0 1 0 -3.6 0M193.9 239.1a1.8 1.8 0 1 0 3.6 0a1.8 1.8 0 1 0 -3.6 0M194.7 239.1a1.8 1.8 0 1 0 3.6 0a1.8 1.8 0 1 0 -3.6 0M195.4 239.3a1.8 1.8 0 1 0 3.6 0a1.8 1.8 0 1 0 -3.6 0M196.2 238.8a1.8 1.8 0 1 0 3.6 0a1.8 1.8 0 1 0 -3.6 0M196.9 238.5a1.8 1.8 0 1 0 3.6 0a1.8 1.8 0 1 0 -3.6 0M197.7 238.3a1.8 1.8 0 1 0 3.6 0a1.8 1.8 0 1 0 -3.6 0M198.4 238.6a1.8 1.8 0 1 0 3.6 0a1.8 1.8 0 1 0 -3.6 0M199.2 238.2a1.8 1.8 0 1 0 3.6 0a1.8 1.8 0 1 0 -3.6 0M199.9 238.4a1.8 1.8 0 1 0 3.6 0a1.8 1.8 0 1 0 -3.6 0M200.7 239.2a1.8 1.8 0 1 0 3.6 0a1.8 1.8 0 1 0 -3.6 0M201.4 239.5a1.8 1.8 0 1 0 3.6 0a1.8 1.8 0 1 0 -3.6 0M202.2 239.3a1.8 1.8 0 1 0 3.6 0a1.8 1.8 0 1 0 -3.6 0M202.9 238.7a1.8 1.8 0 1 0 3.6 0a1.8 1.8 0 1 0 -3.6 0M203.7 238.3a1.8 1.8 0 1 0 3.6 0a1.8 1.8 0 1 0 -3.6 0M204.4 237.7a1.8 1.8 0 1 0 3.6 0a1.8 1.8 0 1 0 -3.6 0M205.2 237.3a1.8 1.8 0 1 0 3.6 0a1.8 1.8 0 1 0 -3.6 0M205.9 238.2a1.8 1.8 0 1 0 3.6 0a1.8 1.8 0 1 0 -3.6 0M206.7 237.9a1.8 1.8 0 1 0 3.6 0a1.8 1.8 0 1 0 -3.6 0M207.4 238.2a1.8 1.8 0 1 0 3.6 0a1.8 1.8 0 1 0 -3.6 0M208.2 238.7a1.8 1.8 0 1 0 3.6 0a1.8 1.8 0 1 0 -3.6 0M208.9 238.9a1.8 1.8 0 1 0 3.6 0a1.8 1.8 0 1 0 -3.6 0M209.7 238.8a1.8 1.8 0 1 0 3.6 0a1.8 1.8 0 1 0 -3.6 0M210.4 238.2a1.8 1.8 0 1 0 3.6 0a1.8 1.8 0 1 0 -3.6 0M211.2 238.0a1.8 1.8 0 1 0 3.6 0a1.8 1.8 0 1 0 -3.6 0M211.9 238.1a1.8 1.8 0 1 0 3.6 0a1.8 1.8 0 1 0 -3.6 0M212.7 238.2a1.8 1.8 0 1 0 3.6 0a1.8 1.8 0 1 0 -3.6 0M213.4 238.4a1.8 1.8 0 1 0 3.6 0a1.8 1.8 0 1 0 -3.6 0M214.2 238.7a1.8 1.8 0 1 0 3.6 0a1.8 1.8 0 1 0 -3.6 0M214.9 238.5a1.8 1.8 0 1 0 3.6 0a1.8 1.8 0 1 0 -3.6 0M215.7 238.3a1.8 1.8 0 1 0 3.6 0a1.8 1.8 0 1 0 -3.6 0M216.4 238.2a1.8 1.8 0 1 0 3.6 0a1.8 1.8 0 1 0 -3.6 0M217.2 237.7a1.8 1.8 0 1 0 3.6 0a1.8 1.8 0 1 0 -3.6 0M217.9 237.8a1.8 1.8 0 1 0 3.6 0a1.8 1.8 0 1 0 -3.6 0M218.7 237.7a1.8 1.8 0 1 0 3.6 0a1.8 1.8 0 1 0 -3.6 0M219.4 237.6a1.8 1.8 0 1 0 3.6 0a1.8 1.8 0 1 0 -3.6 0M220.2 237.7a1.8 1.8 0 1 0 3.6 0a1.8 1.8 0 1 0 -3.6 0M220.9 237.8a1.8 1.8 0 1 0 3.6 0a1.8 1.8 0 1 0 -3.6 0M221.7 237.8a1.8 1.8 0 1 0 3.6 0a1.8 1.8 0 1 0 -3.6 0M222.4 237.9a1.8 1.8 0 1 0 3.6 0a1.8 1.8 0 1 0 -3.6 0M223.2 237.4a1.8 1.8 0 1 0 3.6 0a1.8 1.8 0 1 0 -3.6 0M223.9 237.5a1.8 1.8 0 1 0 3.6 0a1.8 1.8 0 1 0 -3.6 0M224.7 237.8a1.8 1.8 0 1 0 3.6 0a1.8 1.8 0 1 0 -3.6 0M225.4 237.9a1.8 1.8 0 1 0 3.6 0a1.8 1.8 0 1 0 -3.6 0M226.2 237.8a1.8 1.8 0 1 0 3.6 0a1.8 1.8 0 1 0 -3.6 0M226.9 237.7a1.8 1.8 0 1 0 3.6 0a1.8 1.8 0 1 0 -3.6 0M227.7 237.7a1.8 1.8 0 1 0 3.6 0a1.8 1.8 0 1 0 -3.6 0M228.4 237.5a1.8 1.8 0 1 0 3.6 0a1.8 1.8 0 1 0 -3.6 0M229.2 237.7a1.8 1.8 0 1 0 3.6 0a1.8 1.8 0 1 0 -3.6 0M229.9 237.4a1.8 1.8 0 1 0 3.6 0a1.8 1.8 0 1 0 -3.6 0M230.7 237.5a1.8 1.8 0 1 0 3.6 0a1.8 1.8 0 1 0 -3.6 0M231.4 237.7a1.8 1.8 0 1 0 3.6 0a1.8 1.8 0 1 0 -3.6 0M232.2 237.4a1.8 1.8 0 1 0 3.6 0a1.8 1.8 0 1 0 -3.6 0M232.9 237.5a1.8 1.8 0 1 0 3.6 0a1.8 1.8 0 1 0 -3.6 0M233.7 237.1a1.8 1.8 0 1 0 3.6 0a1.8 1.8 0 1 0 -3.6 0M234.4 237.5a1.8 1.8 0 1 0 3.6 0a1.8 1.8 0 1 0 -3.6 0M235.2 237.8a1.8 1.8 0 1 0 3.6 0a1.8 1.8 0 1 0 -3.6 0M235.9 237.8a1.8 1.8 0 1 0 3.6 0a1.8 1.8 0 1 0 -3.6 0M236.7 237.6a1.8 1.8 0 1 0 3.6 0a1.8 1.8 0 1 0 -3.6 0M237.4 237.7a1.8 1.8 0 1 0 3.6 0a1.8 1.8 0 1 0 -3.6 0M238.2 237.8a1.8 1.8 0 1 0 3.6 0a1.8 1.8 0 1 0 -3.6 0M238.9 237.8a1.8 1.8 0 1 0 3.6 0a1.8 1.8 0 1 0 -3.6 0M239.7 237.7a1.8 1.8 0 1 0 3.6 0a1.8 1.8 0 1 0 -3.6 0M240.4 238.1a1.8 1.8 0 1 0 3.6 0a1.8 1.8 0 1 0 -3.6 0M241.2 237.9a1.8 1.8 0 1 0 3.6 0a1.8 1.8 0 1 0 -3.6 0M241.9 238.1a1.8 1.8 0 1 0 3.6 0a1.8 1.8 0 1 0 -3.6 0M242.7 237.9a1.8 1.8 0 1 0 3.6 0a1.8 1.8 0 1 0 -3.6 0M243.4 238.1a1.8 1.8 0 1 0 3.6 0a1.8 1.8 0 1 0 -3.6 0M244.2 237.9a1.8 1.8 0 1 0 3.6 0a1.8 1.8 0 1 0 -3.6 0M244.9 238.0a1.8 1.8 0 1 0 3.6 0a1.8 1.8 0 1 0 -3.6 0M245.7 238.4a1.8 1.8 0 1 0 3.6 0a1.8 1.8 0 1 0 -3.6 0M246.4 238.2a1.8 1.8 0 1 0 3.6 0a1.8 1.8 0 1 0 -3.6 0M247.2 238.5a1.8 1.8 0 1 0 3.6 0a1.8 1.8 0 1 0 -3.6 0M247.9 238.7a1.8 1.8 0 1 0 3.6 0a1.8 1.8 0 1 0 -3.6 0M248.7 238.5a1.8 1.8 0 1 0 3.6 0a1.8 1.8 0 1 0 -3.6 0M249.4 238.6a1.8 1.8 0 1 0 3.6 0a1.8 1.8 0 1 0 -3.6 0M250.2 238.3a1.8 1.8 0 1 0 3.6 0a1.8 1.8 0 1 0 -3.6 0M250.9 238.4a1.8 1.8 0 1 0 3.6 0a1.8 1.8 0 1 0 -3.6 0M251.7 238.1a1.8 1.8 0 1 0 3.6 0a1.8 1.8 0 1 0 -3.6 0M252.4 238.1a1.8 1.8 0 1 0 3.6 0a1.8 1.8 0 1 0 -3.6 0M253.2 238.6a1.8 1.8 0 1 0 3.6 0a1.8 1.8 0 1 0 -3.6 0M253.9 238.2a1.8 1.8 0 1 0 3.6 0a1.8 1.8 0 1 0 -3.6 0M254.7 238.5a1.8 1.8 0 1 0 3.6 0a1.8 1.8 0 1 0 -3.6 0M255.4 237.9a1.8 1.8 0 1 0 3.6 0a1.8 1.8 0 1 0 -3.6 0M256.2 237.8a1.8 1.8 0 1 0 3.6 0a1.8 1.8 0 1 0 -3.6 0M256.9 237.6a1.8 1.8 0 1 0 3.6 0a1.8 1.8 0 1 0 -3.6 0M257.7 237.5a1.8 1.8 0 1 0 3.6 0a1.8 1.8 0 1 0 -3.6 0M258.4 237.6a1.8 1.8 0 1 0 3.6 0a1.8 1.8 0 1 0 -3.6 0M259.2 237.6a1.8 1.8 0 1 0 3.6 0a1.8 1.8 0 1 0 -3.6 0M259.9 237.9a1.8 1.8 0 1 0 3.6 0a1.8 1.8 0 1 0 -3.6 0M260.7 238.1a1.8 1.8 0 1 0 3.6 0a1.8 1.8 0 1 0 -3.6 0M261.4 237.5a1.8 1.8 0 1 0 3.6 0a1.8 1.8 0 1 0 -3.6 0M262.2 237.3a1.8 1.8 0 1 0 3.6 0a1.8 1.8 0 1 0 -3.6 0M262.9 237.0a1.8 1.8 0 1 0 3.6 0a1.8 1.8 0 1 0 -3.6 0M263.7 237.6a1.8 1.8 0 1 0 3.6 0a1.8 1.8 0 1 0 -3.6 0M264.4 236.9a1.8 1.8 0 1 0 3.6 0a1.8 1.8 0 1 0 -3.6 0M265.2 237.1a1.8 1.8 0 1 0 3.6 0a1.8 1.8 0 1 0 -3.6 0M265.9 236.7a1.8 1.8 0 1 0 3.6 0a1.8 1.8 0 1 0 -3.6 0M266.7 236.4a1.8 1.8 0 1 0 3.6 0a1.8 1.8 0 1 0 -3.6 0M267.4 236.2a1.8 1.8 0 1 0 3.6 0a1.8 1.8 0 1 0 -3.6 0M268.2 236.4a1.8 1.8 0 1 0 3.6 0a1.8 1.8 0 1 0 -3.6 0M268.9 235.5a1.8 1.8 0 1 0 3.6 0a1.8 1.8 0 1 0 -3.6 0M269.7 235.9a1.8 1.8 0 1 0 3.6 0a1.8 1.8 0 1 0 -3.6 0M270.4 235.4a1.8 1.8 0 1 0 3.6 0a1.8 1.8 0 1 0 -3.6 0M271.2 235.1a1.8 1.8 0 1 0 3.6 0a1.8 1.8 0 1 0 -3.6 0M271.9 235.1a1.8 1.8 0 1 0 3.6 0a1.8 1.8 0 1 0 -3.6 0M272.7 235.4a1.8 1.8 0 1 0 3.6 0a1.8 1.8 0 1 0 -3.6 0M273.4 235.5a1.8 1.8 0 1 0 3.6 0a1.8 1.8 0 1 0 -3.6 0M274.2 235.4a1.8 1.8 0 1 0 3.6 0a1.8 1.8 0 1 0 -3.6 0M274.9 235.3a1.8 1.8 0 1 0 3.6 0a1.8 1.8 0 1 0 -3.6 0M275.7 235.4a1.8 1.8 0 1 0 3.6 0a1.8 1.8 0 1 0 -3.6 0M276.4 236.0a1.8 1.8 0 1 0 3.6 0a1.8 1.8 0 1 0 -3.6 0M277.2 235.4a1.8 1.8 0 1 0 3.6 0a1.8 1.8 0 1 0 -3.6 0M277.9 235.4a1.8 1.8 0 1 0 3.6 0a1.8 1.8 0 1 0 -3.6 0M278.7 235.3a1.8 1.8 0 1 0 3.6 0a1.8 1.8 0 1 0 -3.6 0M279.4 235.0a1.8 1.8 0 1 0 3.6 0a1.8 1.8 0 1 0 -3.6 0M280.2 234.8a1.8 1.8 0 1 0 3.6 0a1.8 1.8 0 1 0 -3.6 0M280.9 235.0a1.8 1.8 0 1 0 3.6 0a1.8 1.8 0 1 0 -3.6 0M281.7 234.6a1.8 1.8 0 1 0 3.6 0a1.8 1.8 0 1 0 -3.6 0M282.4 234.6a1.8 1.8 0 1 0 3.6 0a1.8 1.8 0 1 0 -3.6 0M283.2 234.0a1.8 1.8 0 1 0 3.6 0a1.8 1.8 0 1 0 -3.6 0M283.9 233.9a1.8 1.8 0 1 0 3.6 0a1.8 1.8 0 1 0 -3.6 0M284.7 234.2a1.8 1.8 0 1 0 3.6 0a1.8 1.8 0 1 0 -3.6 0M285.4 233.7a1.8 1.8 0 1 0 3.6 0a1.8 1.8 0 1 0 -3.6 0M286.2 234.1a1.8 1.8 0 1 0 3.6 0a1.8 1.8 0 1 0 -3.6 0M286.9 234.2a1.8 1.8 0 1 0 3.6 0a1.8 1.8 0 1 0 -3.6 0M287.7 234.0a1.8 1.8 0 1 0 3.6 0a1.8 1.8 0 1 0 -3.6 0M288.4 233.5a1.8 1.8 0 1 0 3.6 0a1.8 1.8 0 1 0 -3.6 0M289.2 234.0a1.8 1.8 0 1 0 3.6 0a1.8 1.8 0 1 0 -3.6 0M289.9 233.7a1.8 1.8 0 1 0 3.6 0a1.8 1.8 0 1 0 -3.6 0M290.7 233.4a1.8 1.8 0 1 0 3.6 0a1.8 1.8 0 1 0 -3.6 0M291.4 233.6a1.8 1.8 0 1 0 3.6 0a1.8 1.8 0 1 0 -3.6 0M292.2 233.6a1.8 1.8 0 1 0 3.6 0a1.8 1.8 0 1 0 -3.6 0M292.9 233.4a1.8 1.8 0 1 0 3.6 0a1.8 1.8 0 1 0 -3.6 0M293.7 233.4a1.8 1.8 0 1 0 3.6 0a1.8 1.8 0 1 0 -3.6 0M294.4 233.4a1.8 1.8 0 1 0 3.6 0a1.8 1.8 0 1 0 -3.6 0M295.2 233.8a1.8 1.8 0 1 0 3.6 0a1.8 1.8 0 1 0 -3.6 0M295.9 233.7a1.8 1.8 0 1 0 3.6 0a1.8 1.8 0 1 0 -3.6 0M296.7 233.2a1.8 1.8 0 1 0 3.6 0a1.8 1.8 0 1 0 -3.6 0M297.4 233.2a1.8 1.8 0 1 0 3.6 0a1.8 1.8 0 1 0 -3.6 0M298.2 233.5a1.8 1.8 0 1 0 3.6 0a1.8 1.8 0 1 0 -3.6 0M298.9 233.3a1.8 1.8 0 1 0 3.6 0a1.8 1.8 0 1 0 -3.6 0M299.7 233.4a1.8 1.8 0 1 0 3.6 0a1.8 1.8 0 1 0 -3.6 0M300.4 233.6a1.8 1.8 0 1 0 3.6 0a1.8 1.8 0 1 0 -3.6 0M301.2 233.7a1.8 1.8 0 1 0 3.6 0a1.8 1.8 0 1 0 -3.6 0M301.9 233.7a1.8 1.8 0 1 0 3.6 0a1.8 1.8 0 1 0 -3.6 0M302.7 233.7a1.8 1.8 0 1 0 3.6 0a1.8 1.8 0 1 0 -3.6 0M303.4 233.1a1.8 1.8 0 1 0 3.6 0a1.8 1.8 0 1 0 -3.6 0M304.2 233.2a1.8 1.8 0 1 0 3.6 0a1.8 1.8 0 1 0 -3.6 0M304.9 233.3a1.8 1.8 0 1 0 3.6 0a1.8 1.8 0 1 0 -3.6 0M305.7 233.2a1.8 1.8 0 1 0 3.6 0a1.8 1.8 0 1 0 -3.6 0M306.4 232.7a1.8 1.8 0 1 0 3.6 0a1.8 1.8 0 1 0 -3.6 0M307.2 232.9a1.8 1.8 0 1 0 3.6 0a1.8 1.8 0 1 0 -3.6 0M307.9 232.5a1.8 1.8 0 1 0 3.6 0a1.8 1.8 0 1 0 -3.6 0M308.7 232.4a1.8 1.8 0 1 0 3.6 0a1.8 1.8 0 1 0 -3.6 0M309.4 232.4a1.8 1.8 0 1 0 3.6 0a1.8 1.8 0 1 0 -3.6 0M310.2 232.4a1.8 1.8 0 1 0 3.6 0a1.8 1.8 0 1 0 -3.6 0M310.9 232.4a1.8 1.8 0 1 0 3.6 0a1.8 1.8 0 1 0 -3.6 0M311.7 232.2a1.8 1.8 0 1 0 3.6 0a1.8 1.8 0 1 0 -3.6 0M312.4 232.5a1.8 1.8 0 1 0 3.6 0a1.8 1.8 0 1 0 -3.6 0M313.2 232.4a1.8 1.8 0 1 0 3.6 0a1.8 1.8 0 1 0 -3.6 0M313.9 232.6a1.8 1.8 0 1 0 3.6 0a1.8 1.8 0 1 0 -3.6 0M314.7 232.3a1.8 1.8 0 1 0 3.6 0a1.8 1.8 0 1 0 -3.6 0M315.4 232.5a1.8 1.8 0 1 0 3.6 0a1.8 1.8 0 1 0 -3.6 0M316.2 232.0a1.8 1.8 0 1 0 3.6 0a1.8 1.8 0 1 0 -3.6 0M316.9 232.4a1.8 1.8 0 1 0 3.6 0a1.8 1.8 0 1 0 -3.6 0M317.7 231.7a1.8 1.8 0 1 0 3.6 0a1.8 1.8 0 1 0 -3.6 0M318.4 231.7a1.8 1.8 0 1 0 3.6 0a1.8 1.8 0 1 0 -3.6 0M319.2 232.1a1.8 1.8 0 1 0 3.6 0a1.8 1.8 0 1 0 -3.6 0M319.9 232.0a1.8 1.8 0 1 0 3.6 0a1.8 1.8 0 1 0 -3.6 0M320.7 231.8a1.8 1.8 0 1 0 3.6 0a1.8 1.8 0 1 0 -3.6 0M321.4 232.0a1.8 1.8 0 1 0 3.6 0a1.8 1.8 0 1 0 -3.6 0M322.2 231.8a1.8 1.8 0 1 0 3.6 0a1.8 1.8 0 1 0 -3.6 0M322.9 232.3a1.8 1.8 0 1 0 3.6 0a1.8 1.8 0 1 0 -3.6 0M323.7 231.8a1.8 1.8 0 1 0 3.6 0a1.8 1.8 0 1 0 -3.6 0M324.4 232.0a1.8 1.8 0 1 0 3.6 0a1.8 1.8 0 1 0 -3.6 0M325.2 232.3a1.8 1.8 0 1 0 3.6 0a1.8 1.8 0 1 0 -3.6 0M325.9 232.6a1.8 1.8 0 1 0 3.6 0a1.8 1.8 0 1 0 -3.6 0M326.7 232.2a1.8 1.8 0 1 0 3.6 0a1.8 1.8 0 1 0 -3.6 0M327.4 231.7a1.8 1.8 0 1 0 3.6 0a1.8 1.8 0 1 0 -3.6 0M328.2 231.5a1.8 1.8 0 1 0 3.6 0a1.8 1.8 0 1 0 -3.6 0M328.9 231.4a1.8 1.8 0 1 0 3.6 0a1.8 1.8 0 1 0 -3.6 0M329.7 231.5a1.8 1.8 0 1 0 3.6 0a1.8 1.8 0 1 0 -3.6 0M330.4 231.4a1.8 1.8 0 1 0 3.6 0a1.8 1.8 0 1 0 -3.6 0M331.2 231.5a1.8 1.8 0 1 0 3.6 0a1.8 1.8 0 1 0 -3.6 0M331.9 231.5a1.8 1.8 0 1 0 3.6 0a1.8 1.8 0 1 0 -3.6 0M332.7 231.4a1.8 1.8 0 1 0 3.6 0a1.8 1.8 0 1 0 -3.6 0M333.4 230.9a1.8 1.8 0 1 0 3.6 0a1.8 1.8 0 1 0 -3.6 0M334.2 230.8a1.8 1.8 0 1 0 3.6 0a1.8 1.8 0 1 0 -3.6 0M334.9 230.9a1.8 1.8 0 1 0 3.6 0a1.8 1.8 0 1 0 -3.6 0M335.7 231.0a1.8 1.8 0 1 0 3.6 0a1.8 1.8 0 1 0 -3.6 0M336.4 231.3a1.8 1.8 0 1 0 3.6 0a1.8 1.8 0 1 0 -3.6 0M337.2 231.4a1.8 1.8 0 1 0 3.6 0a1.8 1.8 0 1 0 -3.6 0M337.9 231.4a1.8 1.8 0 1 0 3.6 0a1.8 1.8 0 1 0 -3.6 0M338.7 230.9a1.8 1.8 0 1 0 3.6 0a1.8 1.8 0 1 0 -3.6 0M339.4 231.0a1.8 1.8 0 1 0 3.6 0a1.8 1.8 0 1 0 -3.6 0M340.2 231.1a1.8 1.8 0 1 0 3.6 0a1.8 1.8 0 1 0 -3.6 0M340.9 230.7a1.8 1.8 0 1 0 3.6 0a1.8 1.8 0 1 0 -3.6 0M341.7 230.9a1.8 1.8 0 1 0 3.6 0a1.8 1.8 0 1 0 -3.6 0M342.4 230.5a1.8 1.8 0 1 0 3.6 0a1.8 1.8 0 1 0 -3.6 0M343.2 230.7a1.8 1.8 0 1 0 3.6 0a1.8 1.8 0 1 0 -3.6 0M343.9 230.6a1.8 1.8 0 1 0 3.6 0a1.8 1.8 0 1 0 -3.6 0M344.7 230.5a1.8 1.8 0 1 0 3.6 0a1.8 1.8 0 1 0 -3.6 0M345.4 230.5a1.8 1.8 0 1 0 3.6 0a1.8 1.8 0 1 0 -3.6 0M346.2 230.4a1.8 1.8 0 1 0 3.6 0a1.8 1.8 0 1 0 -3.6 0M346.9 230.8a1.8 1.8 0 1 0 3.6 0a1.8 1.8 0 1 0 -3.6 0M347.7 230.4a1.8 1.8 0 1 0 3.6 0a1.8 1.8 0 1 0 -3.6 0M348.4 230.5a1.8 1.8 0 1 0 3.6 0a1.8 1.8 0 1 0 -3.6 0M349.2 231.0a1.8 1.8 0 1 0 3.6 0a1.8 1.8 0 1 0 -3.6 0M349.9 230.7a1.8 1.8 0 1 0 3.6 0a1.8 1.8 0 1 0 -3.6 0M350.7 230.4a1.8 1.8 0 1 0 3.6 0a1.8 1.8 0 1 0 -3.6 0M351.4 230.6a1.8 1.8 0 1 0 3.6 0a1.8 1.8 0 1 0 -3.6 0M352.2 230.7a1.8 1.8 0 1 0 3.6 0a1.8 1.8 0 1 0 -3.6 0M352.9 230.3a1.8 1.8 0 1 0 3.6 0a1.8 1.8 0 1 0 -3.6 0M353.7 230.3a1.8 1.8 0 1 0 3.6 0a1.8 1.8 0 1 0 -3.6 0M354.4 230.2a1.8 1.8 0 1 0 3.6 0a1.8 1.8 0 1 0 -3.6 0M355.2 230.1a1.8 1.8 0 1 0 3.6 0a1.8 1.8 0 1 0 -3.6 0M355.9 230.1a1.8 1.8 0 1 0 3.6 0a1.8 1.8 0 1 0 -3.6 0M356.7 230.4a1.8 1.8 0 1 0 3.6 0a1.8 1.8 0 1 0 -3.6 0M357.4 230.4a1.8 1.8 0 1 0 3.6 0a1.8 1.8 0 1 0 -3.6 0M358.2 230.2a1.8 1.8 0 1 0 3.6 0a1.8 1.8 0 1 0 -3.6 0M358.9 230.3a1.8 1.8 0 1 0 3.6 0a1.8 1.8 0 1 0 -3.6 0M359.7 230.0a1.8 1.8 0 1 0 3.6 0a1.8 1.8 0 1 0 -3.6 0M360.4 230.2a1.8 1.8 0 1 0 3.6 0a1.8 1.8 0 1 0 -3.6 0M361.2 229.6a1.8 1.8 0 1 0 3.6 0a1.8 1.8 0 1 0 -3.6 0M361.9 229.8a1.8 1.8 0 1 0 3.6 0a1.8 1.8 0 1 0 -3.6 0M362.7 229.6a1.8 1.8 0 1 0 3.6 0a1.8 1.8 0 1 0 -3.6 0M363.4 229.6a1.8 1.8 0 1 0 3.6 0a1.8 1.8 0 1 0 -3.6 0M364.2 229.4a1.8 1.8 0 1 0 3.6 0a1.8 1.8 0 1 0 -3.6 0M364.9 228.4a1.8 1.8 0 1 0 3.6 0a1.8 1.8 0 1 0 -3.6 0M365.7 228.3a1.8 1.8 0 1 0 3.6 0a1.8 1.8 0 1 0 -3.6 0M366.4 227.3a1.8 1.8 0 1 0 3.6 0a1.8 1.8 0 1 0 -3.6 0M367.2 226.5a1.8 1.8 0 1 0 3.6 0a1.8 1.8 0 1 0 -3.6 0M369.4 216.5a1.8 1.8 0 1 0 3.6 0a1.8 1.8 0 1 0 -3.6 0M370.1 215.9a1.8 1.8 0 1 0 3.6 0a1.8 1.8 0 1 0 -3.6 0M370.9 214.4a1.8 1.8 0 1 0 3.6 0a1.8 1.8 0 1 0 -3.6 0M371.6 213.9a1.8 1.8 0 1 0 3.6 0a1.8 1.8 0 1 0 -3.6 0M372.4 213.3a1.8 1.8 0 1 0 3.6 0a1.8 1.8 0 1 0 -3.6 0M373.1 212.5a1.8 1.8 0 1 0 3.6 0a1.8 1.8 0 1 0 -3.6 0M373.9 211.6a1.8 1.8 0 1 0 3.6 0a1.8 1.8 0 1 0 -3.6 0M374.6 211.1a1.8 1.8 0 1 0 3.6 0a1.8 1.8 0 1 0 -3.6 0M375.4 210.9a1.8 1.8 0 1 0 3.6 0a1.8 1.8 0 1 0 -3.6 0M376.1 210.4a1.8 1.8 0 1 0 3.6 0a1.8 1.8 0 1 0 -3.6 0M376.9 210.1a1.8 1.8 0 1 0 3.6 0a1.8 1.8 0 1 0 -3.6 0M377.6 210.5a1.8 1.8 0 1 0 3.6 0a1.8 1.8 0 1 0 -3.6 0M378.4 210.3a1.8 1.8 0 1 0 3.6 0a1.8 1.8 0 1 0 -3.6 0M379.1 210.2a1.8 1.8 0 1 0 3.6 0a1.8 1.8 0 1 0 -3.6 0M379.9 209.8a1.8 1.8 0 1 0 3.6 0a1.8 1.8 0 1 0 -3.6 0M380.6 210.0a1.8 1.8 0 1 0 3.6 0a1.8 1.8 0 1 0 -3.6 0M381.4 209.4a1.8 1.8 0 1 0 3.6 0a1.8 1.8 0 1 0 -3.6 0M382.1 209.6a1.8 1.8 0 1 0 3.6 0a1.8 1.8 0 1 0 -3.6 0M382.9 209.8a1.8 1.8 0 1 0 3.6 0a1.8 1.8 0 1 0 -3.6 0M383.6 209.6a1.8 1.8 0 1 0 3.6 0a1.8 1.8 0 1 0 -3.6 0M384.4 209.8a1.8 1.8 0 1 0 3.6 0a1.8 1.8 0 1 0 -3.6 0M385.1 209.5a1.8 1.8 0 1 0 3.6 0a1.8 1.8 0 1 0 -3.6 0M385.9 209.3a1.8 1.8 0 1 0 3.6 0a1.8 1.8 0 1 0 -3.6 0M386.6 209.6a1.8 1.8 0 1 0 3.6 0a1.8 1.8 0 1 0 -3.6 0M387.4 209.7a1.8 1.8 0 1 0 3.6 0a1.8 1.8 0 1 0 -3.6 0M388.1 209.7a1.8 1.8 0 1 0 3.6 0a1.8 1.8 0 1 0 -3.6 0M388.9 210.0a1.8 1.8 0 1 0 3.6 0a1.8 1.8 0 1 0 -3.6 0M389.6 209.9a1.8 1.8 0 1 0 3.6 0a1.8 1.8 0 1 0 -3.6 0M390.4 209.7a1.8 1.8 0 1 0 3.6 0a1.8 1.8 0 1 0 -3.6 0M391.1 209.4a1.8 1.8 0 1 0 3.6 0a1.8 1.8 0 1 0 -3.6 0M391.9 209.3a1.8 1.8 0 1 0 3.6 0a1.8 1.8 0 1 0 -3.6 0M392.6 208.5a1.8 1.8 0 1 0 3.6 0a1.8 1.8 0 1 0 -3.6 0M393.4 208.3a1.8 1.8 0 1 0 3.6 0a1.8 1.8 0 1 0 -3.6 0M394.1 208.1a1.8 1.8 0 1 0 3.6 0a1.8 1.8 0 1 0 -3.6 0M394.9 208.6a1.8 1.8 0 1 0 3.6 0a1.8 1.8 0 1 0 -3.6 0M395.6 208.8a1.8 1.8 0 1 0 3.6 0a1.8 1.8 0 1 0 -3.6 0M396.4 208.7a1.8 1.8 0 1 0 3.6 0a1.8 1.8 0 1 0 -3.6 0M397.1 208.3a1.8 1.8 0 1 0 3.6 0a1.8 1.8 0 1 0 -3.6 0M397.9 209.1a1.8 1.8 0 1 0 3.6 0a1.8 1.8 0 1 0 -3.6 0M398.6 208.7a1.8 1.8 0 1 0 3.6 0a1.8 1.8 0 1 0 -3.6 0M399.4 209.0a1.8 1.8 0 1 0 3.6 0a1.8 1.8 0 1 0 -3.6 0M400.1 209.5a1.8 1.8 0 1 0 3.6 0a1.8 1.8 0 1 0 -3.6 0M400.9 209.6a1.8 1.8 0 1 0 3.6 0a1.8 1.8 0 1 0 -3.6 0M401.6 209.4a1.8 1.8 0 1 0 3.6 0a1.8 1.8 0 1 0 -3.6 0M402.4 209.9a1.8 1.8 0 1 0 3.6 0a1.8 1.8 0 1 0 -3.6 0M403.1 209.7a1.8 1.8 0 1 0 3.6 0a1.8 1.8 0 1 0 -3.6 0M403.9 209.8a1.8 1.8 0 1 0 3.6 0a1.8 1.8 0 1 0 -3.6 0M404.6 209.0a1.8 1.8 0 1 0 3.6 0a1.8 1.8 0 1 0 -3.6 0M405.4 209.5a1.8 1.8 0 1 0 3.6 0a1.8 1.8 0 1 0 -3.6 0M406.1 209.3a1.8 1.8 0 1 0 3.6 0a1.8 1.8 0 1 0 -3.6 0M406.9 208.9a1.8 1.8 0 1 0 3.6 0a1.8 1.8 0 1 0 -3.6 0M407.6 208.9a1.8 1.8 0 1 0 3.6 0a1.8 1.8 0 1 0 -3.6 0M408.4 208.9a1.8 1.8 0 1 0 3.6 0a1.8 1.8 0 1 0 -3.6 0M409.1 208.7a1.8 1.8 0 1 0 3.6 0a1.8 1.8 0 1 0 -3.6 0M409.9 208.3a1.8 1.8 0 1 0 3.6 0a1.8 1.8 0 1 0 -3.6 0M410.6 208.6a1.8 1.8 0 1 0 3.6 0a1.8 1.8 0 1 0 -3.6 0M411.4 208.4a1.8 1.8 0 1 0 3.6 0a1.8 1.8 0 1 0 -3.6 0M412.1 208.3a1.8 1.8 0 1 0 3.6 0a1.8 1.8 0 1 0 -3.6 0M412.9 208.1a1.8 1.8 0 1 0 3.6 0a1.8 1.8 0 1 0 -3.6 0M413.6 208.7a1.8 1.8 0 1 0 3.6 0a1.8 1.8 0 1 0 -3.6 0M414.4 208.3a1.8 1.8 0 1 0 3.6 0a1.8 1.8 0 1 0 -3.6 0M415.1 208.4a1.8 1.8 0 1 0 3.6 0a1.8 1.8 0 1 0 -3.6 0M415.9 208.8a1.8 1.8 0 1 0 3.6 0a1.8 1.8 0 1 0 -3.6 0M416.6 208.7a1.8 1.8 0 1 0 3.6 0a1.8 1.8 0 1 0 -3.6 0M417.4 209.1a1.8 1.8 0 1 0 3.6 0a1.8 1.8 0 1 0 -3.6 0M418.1 209.1a1.8 1.8 0 1 0 3.6 0a1.8 1.8 0 1 0 -3.6 0M418.9 209.1a1.8 1.8 0 1 0 3.6 0a1.8 1.8 0 1 0 -3.6 0M419.6 209.6a1.8 1.8 0 1 0 3.6 0a1.8 1.8 0 1 0 -3.6 0M420.4 209.3a1.8 1.8 0 1 0 3.6 0a1.8 1.8 0 1 0 -3.6 0M421.1 209.1a1.8 1.8 0 1 0 3.6 0a1.8 1.8 0 1 0 -3.6 0M421.9 208.6a1.8 1.8 0 1 0 3.6 0a1.8 1.8 0 1 0 -3.6 0M422.6 209.0a1.8 1.8 0 1 0 3.6 0a1.8 1.8 0 1 0 -3.6 0M423.4 209.3a1.8 1.8 0 1 0 3.6 0a1.8 1.8 0 1 0 -3.6 0M424.1 209.0a1.8 1.8 0 1 0 3.6 0a1.8 1.8 0 1 0 -3.6 0M424.9 208.7a1.8 1.8 0 1 0 3.6 0a1.8 1.8 0 1 0 -3.6 0M425.6 209.1a1.8 1.8 0 1 0 3.6 0a1.8 1.8 0 1 0 -3.6 0M426.4 209.6a1.8 1.8 0 1 0 3.6 0a1.8 1.8 0 1 0 -3.6 0M427.1 209.1a1.8 1.8 0 1 0 3.6 0a1.8 1.8 0 1 0 -3.6 0M427.9 209.4a1.8 1.8 0 1 0 3.6 0a1.8 1.8 0 1 0 -3.6 0M428.6 209.4a1.8 1.8 0 1 0 3.6 0a1.8 1.8 0 1 0 -3.6 0M429.4 209.9a1.8 1.8 0 1 0 3.6 0a1.8 1.8 0 1 0 -3.6 0M430.1 209.6a1.8 1.8 0 1 0 3.6 0a1.8 1.8 0 1 0 -3.6 0M430.9 209.6a1.8 1.8 0 1 0 3.6 0a1.8 1.8 0 1 0 -3.6 0M431.6 209.6a1.8 1.8 0 1 0 3.6 0a1.8 1.8 0 1 0 -3.6 0M432.4 209.5a1.8 1.8 0 1 0 3.6 0a1.8 1.8 0 1 0 -3.6 0M433.1 209.9a1.8 1.8 0 1 0 3.6 0a1.8 1.8 0 1 0 -3.6 0M433.9 209.8a1.8 1.8 0 1 0 3.6 0a1.8 1.8 0 1 0 -3.6 0M434.6 210.1a1.8 1.8 0 1 0 3.6 0a1.8 1.8 0 1 0 -3.6 0M435.4 210.0a1.8 1.8 0 1 0 3.6 0a1.8 1.8 0 1 0 -3.6 0M436.1 210.0a1.8 1.8 0 1 0 3.6 0a1.8 1.8 0 1 0 -3.6 0M436.9 210.3a1.8 1.8 0 1 0 3.6 0a1.8 1.8 0 1 0 -3.6 0M437.6 210.1a1.8 1.8 0 1 0 3.6 0a1.8 1.8 0 1 0 -3.6 0M438.4 209.9a1.8 1.8 0 1 0 3.6 0a1.8 1.8 0 1 0 -3.6 0M439.1 210.4a1.8 1.8 0 1 0 3.6 0a1.8 1.8 0 1 0 -3.6 0M439.9 210.1a1.8 1.8 0 1 0 3.6 0a1.8 1.8 0 1 0 -3.6 0M440.6 210.4a1.8 1.8 0 1 0 3.6 0a1.8 1.8 0 1 0 -3.6 0M441.4 211.1a1.8 1.8 0 1 0 3.6 0a1.8 1.8 0 1 0 -3.6 0M442.1 211.2a1.8 1.8 0 1 0 3.6 0a1.8 1.8 0 1 0 -3.6 0M442.9 210.8a1.8 1.8 0 1 0 3.6 0a1.8 1.8 0 1 0 -3.6 0M443.6 211.0a1.8 1.8 0 1 0 3.6 0a1.8 1.8 0 1 0 -3.6 0M444.4 211.0a1.8 1.8 0 1 0 3.6 0a1.8 1.8 0 1 0 -3.6 0M445.1 210.8a1.8 1.8 0 1 0 3.6 0a1.8 1.8 0 1 0 -3.6 0M445.9 211.4a1.8 1.8 0 1 0 3.6 0a1.8 1.8 0 1 0 -3.6 0M446.6 211.3a1.8 1.8 0 1 0 3.6 0a1.8 1.8 0 1 0 -3.6 0M447.4 211.0a1.8 1.8 0 1 0 3.6 0a1.8 1.8 0 1 0 -3.6 0M448.1 211.5a1.8 1.8 0 1 0 3.6 0a1.8 1.8 0 1 0 -3.6 0M448.9 210.8a1.8 1.8 0 1 0 3.6 0a1.8 1.8 0 1 0 -3.6 0M449.6 210.8a1.8 1.8 0 1 0 3.6 0a1.8 1.8 0 1 0 -3.6 0M450.4 211.6a1.8 1.8 0 1 0 3.6 0a1.8 1.8 0 1 0 -3.6 0M451.1 211.3a1.8 1.8 0 1 0 3.6 0a1.8 1.8 0 1 0 -3.6 0M451.9 210.9a1.8 1.8 0 1 0 3.6 0a1.8 1.8 0 1 0 -3.6 0M452.6 211.1a1.8 1.8 0 1 0 3.6 0a1.8 1.8 0 1 0 -3.6 0M453.4 211.0a1.8 1.8 0 1 0 3.6 0a1.8 1.8 0 1 0 -3.6 0M454.1 210.9a1.8 1.8 0 1 0 3.6 0a1.8 1.8 0 1 0 -3.6 0M454.9 210.4a1.8 1.8 0 1 0 3.6 0a1.8 1.8 0 1 0 -3.6 0M455.6 210.4a1.8 1.8 0 1 0 3.6 0a1.8 1.8 0 1 0 -3.6 0M456.4 210.6a1.8 1.8 0 1 0 3.6 0a1.8 1.8 0 1 0 -3.6 0M457.1 210.8a1.8 1.8 0 1 0 3.6 0a1.8 1.8 0 1 0 -3.6 0M457.9 210.7a1.8 1.8 0 1 0 3.6 0a1.8 1.8 0 1 0 -3.6 0M458.6 211.3a1.8 1.8 0 1 0 3.6 0a1.8 1.8 0 1 0 -3.6 0M459.4 211.0a1.8 1.8 0 1 0 3.6 0a1.8 1.8 0 1 0 -3.6 0M460.1 210.8a1.8 1.8 0 1 0 3.6 0a1.8 1.8 0 1 0 -3.6 0M460.9 211.0a1.8 1.8 0 1 0 3.6 0a1.8 1.8 0 1 0 -3.6 0M461.6 210.7a1.8 1.8 0 1 0 3.6 0a1.8 1.8 0 1 0 -3.6 0M174.3 223.6a2.0 2.0 0 1 0 4.0 0a2.0 2.0 0 1 0 -4.0 0M180.1 254.6a2.0 2.0 0 1 0 4.0 0a2.0 2.0 0 1 0 -4.0 0M178.8 260.4a2.0 2.0 0 1 0 4.0 0a2.0 2.0 0 1 0 -4.0 0M177.4 265.7a2.0 2.0 0 1 0 4.0 0a2.0 2.0 0 1 0 -4.0 0M175.9 270.1a2.0 2.0 0 1 0 4.0 0a2.0 2.0 0 1 0 -4.0 0M367.3 226.3a2.0 2.0 0 1 0 4.0 0a2.0 2.0 0 1 0 -4.0 0M368.3 220.6a2.0 2.0 0 1 0 4.0 0a2.0 2.0 0 1 0 -4.0 0M368.7 218.6a2.0 2.0 0 1 0 4.0 0a2.0 2.0 0 1 0 -4.0 0"/><path d="M77.5 1.5H464.5V287.5M77.0 287.5H464.5M77.5 1.5V94.2M77.5 99.4V189.8M77.5 194.5V288.0M71.1 96.9L83.3 91.8M71.1 102.1L83.3 97.1M71.1 192.6L83.3 187.3M71.1 197.2L83.3 192.1M71.5 94.60H77.5M74.5 81.27H77.5M71.5 67.94H77.5M74.5 54.61H77.5M71.5 41.28H77.5M74.5 27.95H77.5M71.5 14.62H77.5M74.5 1.50H77.5M71.5 189.90H77.5M74.5 180.85H77.5M71.5 171.80H77.5M74.5 162.75H77.5M71.5 153.70H77.5M74.5 144.65H77.5M71.5 135.60H77.5M74.5 126.55H77.5M71.5 117.50H77.5M74.5 108.45H77.5M71.5 287.50H77.5M74.5 272.05H77.5M71.5 256.60H77.5M74.5 241.15H77.5M71.5 225.70H77.5M74.5 210.25H77.5M77.50 287.5V293.5M109.50 287.5V290.5M142.50 287.5V290.5M174.50 287.5V293.5M206.50 287.5V290.5M238.50 287.5V290.5M271.00 287.5V293.5M303.50 287.5V290.5M335.50 287.5V290.5M367.50 287.5V293.5M400.50 287.5V290.5M432.50 287.5V290.5M464.50 287.5V293.5" stroke="#000" stroke-width="1.2" fill="none"/><g font-family="Liberation Sans, sans-serif" style="font-kerning:none"><g transform="translate(0 98.60) scale(1 1.04)" fill="#000"><text x="25.89" y="0" font-size="12.5" stroke="#000" stroke-width="0.22">487000</text></g><g transform="translate(0 71.94) scale(1 1.04)" fill="#000"><text x="25.89" y="0" font-size="12.5" stroke="#000" stroke-width="0.22">488000</text></g><g transform="translate(0 45.28) scale(1 1.04)" fill="#000"><text x="25.89" y="0" font-size="12.5" stroke="#000" stroke-width="0.22">489000</text></g><g transform="translate(0 18.62) scale(1 1.04)" fill="#000"><text x="25.89" y="0" font-size="12.5" stroke="#000" stroke-width="0.22">490000</text></g><g transform="translate(0 193.90) scale(1 1.04)" fill="#000"><text x="25.89" y="0" font-size="12.5" stroke="#000" stroke-width="0.22">393000</text></g><g transform="translate(0 175.80) scale(1 1.04)" fill="#000"><text x="25.89" y="0" font-size="12.5" stroke="#000" stroke-width="0.22">393500</text></g><g transform="translate(0 157.70) scale(1 1.04)" fill="#000"><text x="25.89" y="0" font-size="12.5" stroke="#000" stroke-width="0.22">394000</text></g><g transform="translate(0 139.60) scale(1 1.04)" fill="#000"><text x="25.89" y="0" font-size="12.5" stroke="#000" stroke-width="0.22">394500</text></g><g transform="translate(0 121.50) scale(1 1.04)" fill="#000"><text x="25.89" y="0" font-size="12.5" stroke="#000" stroke-width="0.22">395000</text></g><g transform="translate(0 291.50) scale(1 1.04)" fill="#000"><text x="25.89" y="0" font-size="12.5" stroke="#000" stroke-width="0.22">306000</text></g><g transform="translate(0 260.60) scale(1 1.04)" fill="#000"><text x="25.89" y="0" font-size="12.5" stroke="#000" stroke-width="0.22">306500</text></g><g transform="translate(0 229.70) scale(1 1.04)" fill="#000"><text x="25.89" y="0" font-size="12.5" stroke="#000" stroke-width="0.22">307000</text></g><g transform="translate(0 307.40) scale(1 1.04)" fill="#000"><text x="74.02" y="0" font-size="12.5" stroke="#000" stroke-width="0.22">0</text></g><g transform="translate(0 307.40) scale(1 1.04)" fill="#000"><path transform="translate(167.55 0) scale(0.006104 -0.006104)" d="M763 0L583 0L583 1147Q518 1085 415 1024Q312 964 222 930L222 1104Q373 1175 486 1276Q599 1377 646 1472L763 1472Z" stroke="#000" stroke-width="36.0"/><text x="174.50" y="0" font-size="12.5" stroke="#000" stroke-width="0.22">5</text></g><g transform="translate(0 307.40) scale(1 1.04)" fill="#000"><text x="264.05" y="0" font-size="12.5" stroke="#000" stroke-width="0.22">30</text></g><g transform="translate(0 307.40) scale(1 1.04)" fill="#000"><text x="360.55" y="0" font-size="12.5" stroke="#000" stroke-width="0.22">45</text></g><g transform="translate(0 307.40) scale(1 1.04)" fill="#000"><text x="457.55" y="0" font-size="12.5" stroke="#000" stroke-width="0.22">60</text></g></g><g font-family="Liberation Sans, sans-serif" style="font-kerning:none"><g transform="translate(0 330.80) scale(1 1.04)" fill="#000"><text x="234.11" y="0" font-size="15.4" stroke="#000" stroke-width="0.22">Time (min)</text></g></g><g font-family="Liberation Sans, sans-serif" style="font-kerning:none" transform="translate(12 144.2) rotate(-90)"><g transform="translate(0 0.00) scale(1 1.04)" fill="#000"><text x="-53.06" y="0" font-size="15.4" stroke="#000" stroke-width="0.22">Frequency (Hz)</text></g></g><rect x="364.5" y="235.5" width="100" height="52" fill="#fff" stroke="#666" stroke-width="1"/><path d="M464.5 235V287.5M364 287.5H464.5" stroke="#000" stroke-width="1.1"/><circle cx="386.6" cy="244.6" r="2.0" fill="#000000"/><g font-family="Liberation Sans, sans-serif" style="font-kerning:none"><g transform="translate(0 249.20) scale(1 1.04)" fill="#000"><text x="406.20" y="0" font-size="14" stroke="#000" stroke-width="0.22">Mode </text><path transform="translate(445.11 0) scale(0.006836 -0.006836)" d="M763 0L583 0L583 1147Q518 1085 415 1024Q312 964 222 930L222 1104Q373 1175 486 1276Q599 1377 646 1472L763 1472Z" stroke="#000" stroke-width="32.2"/><text x="452.90" y="0" font-size="14" stroke="#000" stroke-width="0.22">0</text></g></g><circle cx="386.6" cy="261.8" r="2.0" fill="#00ff00"/><g font-family="Liberation Sans, sans-serif" style="font-kerning:none"><g transform="translate(0 266.50) scale(1 1.04)" fill="#000"><text x="406.20" y="0" font-size="14" stroke="#000" stroke-width="0.22">Mode </text><path transform="translate(445.11 0) scale(0.006836 -0.006836)" d="M763 0L583 0L583 1147Q518 1085 415 1024Q312 964 222 930L222 1104Q373 1175 486 1276Q599 1377 646 1472L763 1472Z" stroke="#000" stroke-width="32.2"/><path transform="translate(452.90 0) scale(0.006836 -0.006836)" d="M763 0L583 0L583 1147Q518 1085 415 1024Q312 964 222 930L222 1104Q373 1175 486 1276Q599 1377 646 1472L763 1472Z" stroke="#000" stroke-width="32.2"/></g></g><circle cx="386.6" cy="279.0" r="2.0" fill="#8b0000"/><g font-family="Liberation Sans, sans-serif" style="font-kerning:none"><g transform="translate(0 283.80) scale(1 1.04)" fill="#000"><text x="406.20" y="0" font-size="14" stroke="#000" stroke-width="0.22">Mode </text><path transform="translate(445.11 0) scale(0.006836 -0.006836)" d="M763 0L583 0L583 1147Q518 1085 415 1024Q312 964 222 930L222 1104Q373 1175 486 1276Q599 1377 646 1472L763 1472Z" stroke="#000" stroke-width="32.2"/><text x="452.90" y="0" font-size="14" stroke="#000" stroke-width="0.22">2</text></g></g></svg></body></html>
